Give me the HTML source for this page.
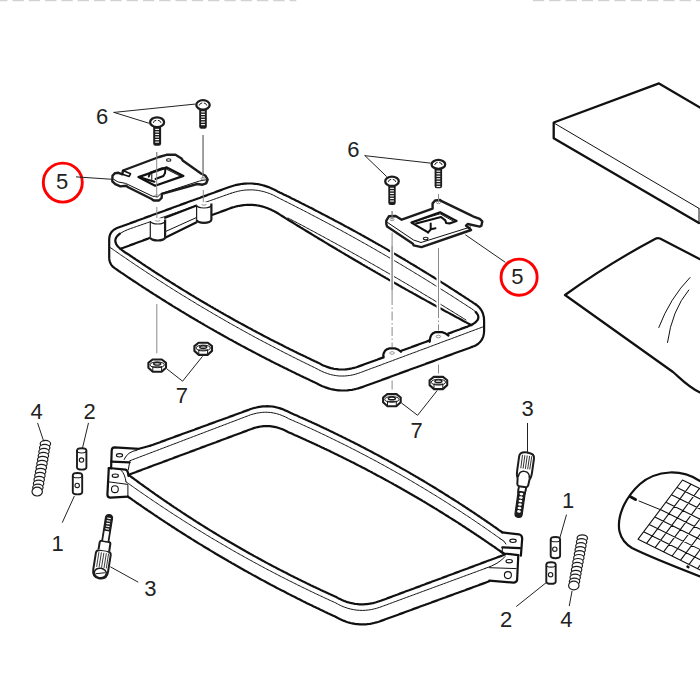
<!DOCTYPE html>
<html><head><meta charset="utf-8"><style>
html,body{margin:0;padding:0;background:#fff;width:700px;height:700px;overflow:hidden}
svg{display:block}
text{font-family:"Liberation Sans",sans-serif}
</style></head><body>
<svg width="700" height="700" viewBox="0 0 700 700">
<rect width="700" height="700" fill="#fff"/>
<path d="M228.6,187.3 230.2,186.7 231.8,186.2 233.4,185.7 235.0,185.3 236.5,184.9 238.1,184.6 239.6,184.3 241.2,184.0 242.8,183.8 244.3,183.7 245.9,183.6 247.4,183.5 248.9,183.5 250.5,183.5 252.0,183.5 253.5,183.7 255.0,183.8 256.6,184.0 258.1,184.2 259.6,184.5 261.1,184.8 262.6,185.2 264.1,185.6 265.6,186.1 267.1,186.6 268.6,187.1 270.1,187.7 271.6,188.4 273.0,189.1 274.5,189.8 276.0,190.5 277.5,191.4 278.8,192.0 280.2,192.7 281.5,193.3 282.9,194.0 284.2,194.7 285.6,195.3 287.0,196.0 288.3,196.6 289.7,197.3 291.0,198.0 292.4,198.7 293.7,199.3 295.1,200.0 296.4,200.7 297.8,201.3 299.1,202.0 300.5,202.7 301.8,203.4 303.1,204.0 304.5,204.7 305.8,205.4 307.2,206.1 308.5,206.8 309.9,207.5 311.2,208.1 312.6,208.8 313.9,209.5 315.2,210.2 316.6,210.9 317.9,211.6 319.2,212.3 320.6,213.0 321.9,213.7 323.3,214.4 324.6,215.1 325.9,215.8 327.3,216.5 328.6,217.2 329.9,217.9 331.3,218.6 332.6,219.3 333.9,220.0 335.2,220.7 336.6,221.4 337.9,222.1 339.2,222.8 340.6,223.5 341.9,224.2 343.2,224.9 344.5,225.7 345.9,226.4 347.2,227.1 348.5,227.8 349.8,228.5 351.2,229.2 352.5,230.0 353.8,230.7 355.1,231.4 356.4,232.1 357.8,232.9 359.1,233.6 360.4,234.3 361.7,235.1 363.0,235.8 364.3,236.5 365.6,237.3 367.0,238.0 368.3,238.7 369.6,239.5 370.9,240.2 372.2,240.9 373.5,241.7 374.8,242.4 376.1,243.2 377.4,243.9 378.8,244.7 380.1,245.4 381.4,246.1 382.7,246.9 384.0,247.6 385.3,248.4 386.6,249.1 387.9,249.9 389.2,250.7 390.5,251.4 391.8,252.2 393.1,252.9 394.4,253.7 395.7,254.4 397.0,255.2 398.3,256.0 399.6,256.7 400.9,257.5 402.2,258.3 403.5,259.0 404.8,259.8 406.1,260.6 407.4,261.3 408.6,262.1 409.9,262.9 411.2,263.7 412.5,264.4 413.8,265.2 415.1,266.0 416.4,266.8 417.7,267.6 419.0,268.3 420.2,269.1 421.5,269.9 422.8,270.7 424.1,271.5 425.4,272.3 426.7,273.1 428.0,273.8 429.2,274.6 430.5,275.4 431.8,276.2 433.1,277.0 434.4,277.8 435.6,278.6 436.9,279.4 438.2,280.2 439.5,281.0 440.7,281.8 442.0,282.6 443.3,283.4 444.6,284.2 445.8,285.0 447.1,285.8 448.4,286.6 449.7,287.5 450.9,288.3 452.2,289.1 453.5,289.9 454.7,290.7 456.0,291.5 457.3,292.3 458.5,293.2 459.8,294.0 461.1,294.8 462.3,295.6 463.6,296.4 464.8,297.3 466.1,298.1 467.4,298.9 468.6,299.7 469.9,300.6 471.2,301.4 472.4,302.2 473.7,303.1 475.2,304.0 476.6,305.0 477.9,306.1 479.1,307.3 480.2,308.5 481.1,309.8 481.9,311.2 482.6,312.7 483.1,314.2 483.5,315.8 483.9,317.5 484.0,319.2 484.1,321.0 484.1,322.6 484.1,324.2 484.1,325.8 484.1,327.3 484.1,328.9 484.1,330.5 484.0,332.3 483.8,334.0 483.5,335.6 483.0,337.1 482.4,338.6 481.7,339.9 480.8,341.1 479.8,342.3 478.7,343.3 477.4,344.3 476.0,345.2 474.5,345.9 472.8,346.6 471.4,347.1 470.0,347.7 468.6,348.2 467.2,348.7 465.8,349.2 464.4,349.7 463.0,350.2 461.6,350.8 460.1,351.3 458.7,351.8 457.3,352.3 455.9,352.8 454.5,353.3 453.1,353.8 451.7,354.4 450.3,354.9 448.9,355.4 447.5,355.9 446.1,356.4 444.6,356.9 443.2,357.5 441.8,358.0 440.4,358.5 439.0,359.0 437.6,359.5 436.2,360.0 434.8,360.6 433.4,361.1 432.0,361.6 430.6,362.1 429.1,362.6 427.7,363.1 426.3,363.6 424.9,364.2 423.5,364.7 422.1,365.2 420.7,365.7 419.3,366.2 417.9,366.7 416.5,367.3 415.1,367.8 413.6,368.3 412.2,368.8 410.8,369.3 409.4,369.8 408.0,370.4 406.6,370.9 405.2,371.4 403.8,371.9 402.4,372.4 401.0,372.9 399.6,373.4 398.1,374.0 396.7,374.5 395.3,375.0 393.9,375.5 392.5,376.0 391.1,376.5 389.7,377.1 388.3,377.6 386.9,378.1 385.5,378.6 384.1,379.1 382.6,379.6 381.2,380.2 379.8,380.7 378.4,381.2 377.0,381.7 375.6,382.2 374.2,382.7 372.8,383.3 371.4,383.8 370.0,384.3 368.6,384.8 367.1,385.3 365.7,385.8 364.3,386.3 362.9,386.9 361.3,387.4 359.8,387.9 358.2,388.4 356.6,388.8 355.1,389.2 353.5,389.5 352.0,389.8 350.4,390.0 348.9,390.2 347.4,390.4 345.8,390.5 344.3,390.5 342.8,390.5 341.2,390.5 339.7,390.4 338.2,390.3 336.7,390.1 335.2,389.9 333.7,389.6 332.2,389.3 330.7,389.0 329.2,388.6 327.7,388.1 326.2,387.6 324.7,387.1 323.2,386.5 321.8,385.9 320.3,385.2 318.8,384.5 317.4,383.7 315.9,382.9 314.5,382.3 313.2,381.7 311.8,381.0 310.4,380.4 309.1,379.7 307.7,379.1 306.4,378.5 305.0,377.8 303.6,377.2 302.3,376.5 300.9,375.9 299.6,375.2 298.2,374.6 296.8,373.9 295.5,373.3 294.1,372.6 292.8,371.9 291.4,371.3 290.1,370.6 288.7,370.0 287.4,369.3 286.0,368.6 284.7,368.0 283.3,367.3 282.0,366.6 280.6,366.0 279.3,365.3 277.9,364.6 276.6,363.9 275.2,363.3 273.9,362.6 272.6,361.9 271.2,361.2 269.9,360.5 268.5,359.8 267.2,359.2 265.9,358.5 264.5,357.8 263.2,357.1 261.8,356.4 260.5,355.7 259.2,355.0 257.8,354.3 256.5,353.6 255.2,352.9 253.9,352.2 252.5,351.5 251.2,350.8 249.9,350.1 248.5,349.4 247.2,348.7 245.9,348.0 244.6,347.3 243.2,346.6 241.9,345.9 240.6,345.2 239.3,344.4 237.9,343.7 236.6,343.0 235.3,342.3 234.0,341.6 232.7,340.8 231.4,340.1 230.0,339.4 228.7,338.7 227.4,337.9 226.1,337.2 224.8,336.5 223.5,335.8 222.2,335.0 220.8,334.3 219.5,333.5 218.2,332.8 216.9,332.1 215.6,331.3 214.3,330.6 213.0,329.8 211.7,329.1 210.4,328.4 209.1,327.6 207.8,326.9 206.5,326.1 205.2,325.4 203.9,324.6 202.6,323.8 201.3,323.1 200.0,322.3 198.7,321.6 197.4,320.8 196.1,320.0 194.8,319.3 193.5,318.5 192.2,317.8 190.9,317.0 189.6,316.2 188.3,315.4 187.1,314.7 185.8,313.9 184.5,313.1 183.2,312.3 181.9,311.6 180.6,310.8 179.3,310.0 178.1,309.2 176.8,308.4 175.5,307.7 174.2,306.9 172.9,306.1 171.7,305.3 170.4,304.5 169.1,303.7 167.8,302.9 166.5,302.1 165.3,301.3 164.0,300.5 162.7,299.7 161.4,298.9 160.2,298.1 158.9,297.3 157.6,296.5 156.4,295.7 155.1,294.9 153.8,294.1 152.6,293.3 151.3,292.5 150.0,291.7 148.8,290.8 147.5,290.0 146.2,289.2 145.0,288.4 143.7,287.6 142.4,286.8 141.2,285.9 139.9,285.1 138.7,284.3 137.4,283.4 136.2,282.6 134.9,281.8 133.6,281.0 132.4,280.1 131.1,279.3 129.9,278.5 128.6,277.6 127.4,276.8 126.1,275.9 124.9,275.1 123.6,274.2 122.4,273.4 121.1,272.6 119.9,271.7 118.6,270.9 117.4,270.0 116.2,269.2 114.7,268.2 113.4,267.2 112.3,266.1 111.3,264.8 110.6,263.5 110.0,262.1 109.5,260.6 109.3,258.9 109.2,257.2 109.2,255.6 109.2,254.1 109.2,252.5 109.2,250.9 109.2,249.3 109.2,247.8 109.2,246.2 109.2,244.6 109.2,243.0 109.2,241.5 109.2,239.9 109.3,238.0 109.6,236.2 110.1,234.6 110.9,233.1 111.8,231.7 113.0,230.5 114.3,229.5 115.9,228.6 117.7,227.8 119.1,227.3 120.5,226.8 121.9,226.3 123.3,225.7 124.8,225.2 126.2,224.7 127.6,224.2 129.0,223.7 130.5,223.1 131.9,222.6 133.3,222.1 134.7,221.6 136.2,221.1 137.6,220.5 139.0,220.0 140.4,219.5 141.8,219.0 143.3,218.5 144.7,217.9 146.1,217.4 147.5,216.9 149.0,216.4 150.4,215.9 151.8,215.3 153.2,214.8 154.6,214.3 156.1,213.8 157.5,213.3 158.9,212.7 160.3,212.2 161.8,211.7 163.2,211.2 164.6,210.7 166.0,210.1 167.5,209.6 168.9,209.1 170.3,208.6 171.7,208.1 173.1,207.5 174.6,207.0 176.0,206.5 177.4,206.0 178.8,205.5 180.3,204.9 181.7,204.4 183.1,203.9 184.5,203.4 186.0,202.9 187.4,202.3 188.8,201.8 190.2,201.3 191.6,200.8 193.1,200.3 194.5,199.7 195.9,199.2 197.3,198.7 198.8,198.2 200.2,197.7 201.6,197.1 203.0,196.6 204.5,196.1 205.9,195.6 207.3,195.1 208.7,194.5 210.1,194.0 211.6,193.5 213.0,193.0 214.4,192.5 215.8,191.9 217.3,191.4 218.7,190.9 220.1,190.4 221.5,189.9 222.9,189.3 224.4,188.8 225.8,188.3 227.2,187.8 228.6,187.3" fill="none" stroke="#111" stroke-width="2.2" stroke-linejoin="round" stroke-linecap="round" />
<path d="M230.9,193.3 232.5,192.8 234.0,192.3 235.6,191.9 237.2,191.5 238.7,191.1 240.3,190.8 241.8,190.5 243.4,190.3 244.9,190.1 246.5,190.0 248.0,189.9 249.6,189.9 251.1,189.9 252.6,189.9 254.1,190.0 255.7,190.2 257.2,190.3 258.7,190.6 260.2,190.8 261.7,191.2 263.2,191.5 264.7,191.9 266.2,192.4 267.7,192.9 269.2,193.4 270.6,194.0 272.1,194.6 273.6,195.3 275.0,196.0 276.5,196.8 278.0,197.6 279.3,198.3 280.7,199.0 282.0,199.6 283.4,200.3 284.7,201.0 286.0,201.7 287.4,202.3 288.7,203.0 290.1,203.7 291.4,204.4 292.8,205.0 294.1,205.7 295.4,206.4 296.8,207.1 298.1,207.8 299.5,208.5 300.8,209.1 302.1,209.8 303.5,210.5 304.8,211.2 306.2,211.9 307.5,212.6 308.8,213.3 310.2,214.0 311.5,214.7 312.8,215.4 314.2,216.1 315.5,216.8 316.8,217.5 318.2,218.2 319.5,218.9 320.8,219.6 322.1,220.3 323.5,221.0 324.8,221.7 326.1,222.4 327.5,223.1 328.8,223.8 330.1,224.5 331.4,225.2 332.8,225.9 334.1,226.6 335.4,227.4 336.7,228.1 338.0,228.8 339.4,229.5 340.7,230.2 342.0,230.9 343.3,231.7 344.6,232.4 346.0,233.1 347.3,233.8 348.6,234.6 349.9,235.3 351.2,236.0 352.5,236.7 353.9,237.5 355.2,238.2 356.5,238.9 357.8,239.7 359.1,240.4 360.4,241.1 361.7,241.9 363.0,242.6 364.4,243.3 365.7,244.1 367.0,244.8 368.3,245.6 369.6,246.3 370.9,247.0 372.2,247.8 373.5,248.5 374.8,249.3 376.1,250.0 377.4,250.8 378.7,251.5 380.0,252.3 381.3,253.0 382.6,253.8 383.9,254.5 385.2,255.3 386.5,256.0 387.8,256.8 389.1,257.6 390.4,258.3 391.7,259.1 393.0,259.8 394.3,260.6 395.6,261.4 396.9,262.1 398.2,262.9 399.5,263.7 400.8,264.4 402.1,265.2 403.4,266.0 404.6,266.7 405.9,267.5 407.2,268.3 408.5,269.1 409.8,269.8 411.1,270.6 412.4,271.4 413.7,272.2 414.9,273.0 416.2,273.7 417.5,274.5 418.8,275.3 420.1,276.1 421.4,276.9 422.6,277.7 423.9,278.4 425.2,279.2 426.5,280.0 427.8,280.8 429.0,281.6 430.3,282.4 431.6,283.2 432.9,284.0 434.1,284.8 435.4,285.6 436.7,286.4 438.0,287.2 439.2,288.0 440.5,288.8 441.8,289.6 443.1,290.4 444.3,291.2 445.6,292.0 446.9,292.8 448.1,293.6 449.4,294.4 450.7,295.2 452.0,296.0 453.2,296.8 454.5,297.7 455.8,298.5 457.0,299.3 458.3,300.1 459.5,300.9 460.8,301.7 462.1,302.6 463.3,303.4 464.6,304.2 465.9,305.0 467.1,305.8 468.4,306.7 471.3,308.5 473.8,310.3 475.7,312.0 477.1,313.7 478.0,315.3 478.4,316.9 478.2,318.5 477.6,320.0 476.4,321.4 474.8,322.9 472.6,324.2 469.9,325.6 466.7,326.9 465.2,327.4 463.8,327.9 462.4,328.4 461.0,328.9 459.6,329.5 458.1,330.0 456.7,330.5 455.3,331.0 453.9,331.5 452.5,332.1 451.0,332.6 449.6,333.1 448.2,333.6 446.8,334.1 445.3,334.7 443.9,335.2 442.5,335.7 441.1,336.2 439.7,336.8 438.2,337.3 436.8,337.8 435.4,338.3 434.0,338.8 432.6,339.4 431.1,339.9 429.7,340.4 428.3,340.9 426.9,341.4 425.5,342.0 424.0,342.5 422.6,343.0 421.2,343.5 419.8,344.0 418.3,344.6 416.9,345.1 415.5,345.6 414.1,346.1 412.7,346.6 411.2,347.2 409.8,347.7 408.4,348.2 407.0,348.7 405.6,349.2 404.1,349.8 402.7,350.3 401.3,350.8 399.9,351.3 398.4,351.9 397.0,352.4 395.6,352.9 394.2,353.4 392.8,353.9 391.3,354.5 389.9,355.0 388.5,355.5 387.1,356.0 385.7,356.5 384.2,357.1 382.8,357.6 381.4,358.1 380.0,358.6 378.6,359.1 377.1,359.7 375.7,360.2 374.3,360.7 372.9,361.2 371.4,361.7 370.0,362.3 368.6,362.8 367.2,363.3 365.8,363.8 364.3,364.3 362.9,364.9 361.5,365.4 360.1,365.9 358.7,366.4 357.1,367.0 355.5,367.5 353.9,367.9 352.3,368.3 350.8,368.7 349.2,368.9 347.6,369.2 346.1,369.3 344.5,369.5 343.0,369.5 341.5,369.5 339.9,369.5 338.4,369.4 336.9,369.2 335.3,369.0 333.8,368.8 332.3,368.4 330.8,368.1 329.3,367.6 327.8,367.1 326.3,366.6 324.8,366.0 323.3,365.4 321.8,364.7 320.4,363.9 318.9,363.1 317.5,362.5 316.2,361.8 314.8,361.2 313.4,360.5 312.1,359.9 310.7,359.2 309.3,358.6 308.0,357.9 306.6,357.3 305.3,356.6 303.9,356.0 302.5,355.3 301.2,354.7 299.8,354.0 298.5,353.4 297.1,352.7 295.8,352.0 294.4,351.4 293.1,350.7 291.7,350.0 290.4,349.4 289.0,348.7 287.7,348.0 286.3,347.4 285.0,346.7 283.6,346.0 282.3,345.3 280.9,344.6 279.6,344.0 278.3,343.3 276.9,342.6 275.6,341.9 274.2,341.2 272.9,340.5 271.6,339.9 270.2,339.2 268.9,338.5 267.5,337.8 266.2,337.1 264.9,336.4 263.5,335.7 262.2,335.0 260.9,334.3 259.6,333.6 258.2,332.9 256.9,332.2 255.6,331.5 254.2,330.8 252.9,330.1 251.6,329.3 250.3,328.6 248.9,327.9 247.6,327.2 246.3,326.5 245.0,325.8 243.6,325.0 242.3,324.3 241.0,323.6 239.7,322.9 238.4,322.2 237.1,321.4 235.7,320.7 234.4,320.0 233.1,319.2 231.8,318.5 230.5,317.8 229.2,317.0 227.9,316.3 226.6,315.6 225.2,314.8 223.9,314.1 222.6,313.3 221.3,312.6 220.0,311.8 218.7,311.1 217.4,310.3 216.1,309.6 214.8,308.8 213.5,308.1 212.2,307.3 210.9,306.6 209.6,305.8 208.3,305.1 207.0,304.3 205.7,303.5 204.4,302.8 203.1,302.0 201.8,301.2 200.5,300.5 199.2,299.7 198.0,298.9 196.7,298.2 195.4,297.4 194.1,296.6 192.8,295.8 191.5,295.1 190.2,294.3 188.9,293.5 187.7,292.7 186.4,291.9 185.1,291.1 183.8,290.4 182.5,289.6 181.2,288.8 180.0,288.0 178.7,287.2 177.4,286.4 176.1,285.6 174.9,284.8 173.6,284.0 172.3,283.2 171.0,282.4 169.8,281.6 168.5,280.8 167.2,280.0 165.9,279.2 164.7,278.4 163.4,277.6 162.1,276.7 160.9,275.9 159.6,275.1 158.3,274.3 157.1,273.5 155.8,272.7 154.5,271.8 153.3,271.0 152.0,270.2 150.8,269.4 149.5,268.5 148.2,267.7 147.0,266.9 145.7,266.1 144.5,265.2 143.2,264.4 142.0,263.6 140.7,262.7 139.5,261.9 138.2,261.0 137.0,260.2 135.7,259.4 134.5,258.5 133.2,257.7 132.0,256.8 130.7,256.0 129.5,255.1 128.2,254.3 125.2,252.5 122.7,250.7 120.5,249.0 118.7,247.3 117.2,245.7 116.2,244.1 115.6,242.5 115.3,240.9 115.5,239.4 116.0,237.9 116.9,236.5 118.2,235.1 119.9,233.7 122.0,232.4 124.4,231.1 127.3,229.8 130.5,228.6 132.0,228.1 133.4,227.6 134.8,227.1 136.3,226.6 137.7,226.1 139.1,225.6 140.6,225.1 142.0,224.6 143.4,224.1 144.9,223.6 146.3,223.1 147.7,222.6 149.2,222.1 150.6,221.6 152.0,221.1 153.5,220.5 154.9,220.0 156.3,219.5 157.8,219.0 159.2,218.5 160.6,218.0 162.1,217.5 163.5,217.0 164.9,216.5 166.4,216.0 167.8,215.5 169.2,215.0 170.7,214.5 172.1,214.0 173.5,213.5 175.0,213.0 176.4,212.5 177.8,212.0 179.3,211.5 180.7,211.0 182.1,210.5 183.6,210.0 185.0,209.5 186.4,209.0 187.9,208.4 189.3,207.9 190.7,207.4 192.2,206.9 193.6,206.4 195.0,205.9 196.5,205.4 197.9,204.9 199.3,204.4 200.8,203.9 202.2,203.4 203.6,202.9 205.1,202.4 206.5,201.9 207.9,201.4 209.4,200.9 210.8,200.4 212.2,199.9 213.7,199.4 215.1,198.9 216.5,198.4 218.0,197.9 219.4,197.4 220.8,196.9 222.3,196.4 223.7,195.8 225.1,195.3 226.6,194.8 228.0,194.3 229.4,193.8 230.9,193.3" fill="none" stroke="#111" stroke-width="1.0" stroke-linejoin="round" stroke-linecap="round" />
<path d="M475.7,312.0 477.1,313.7 478.0,315.3 478.4,316.9 478.2,318.5 477.6,320.0 476.4,321.4 474.8,322.9 472.6,324.2 469.9,325.6 466.7,326.9 465.2,327.4 463.8,327.9 462.4,328.4 461.0,328.9 459.6,329.5 458.1,330.0 456.7,330.5 455.3,331.0 453.9,331.5 452.5,332.1 451.0,332.6 449.6,333.1 448.2,333.6 446.8,334.1 445.3,334.7 443.9,335.2 442.5,335.7 441.1,336.2 439.7,336.8 438.2,337.3 436.8,337.8 435.4,338.3 434.0,338.8 432.6,339.4 431.1,339.9 429.7,340.4 428.3,340.9 426.9,341.4 425.5,342.0 424.0,342.5 422.6,343.0 421.2,343.5 419.8,344.0 418.3,344.6 416.9,345.1 415.5,345.6 414.1,346.1 412.7,346.6 411.2,347.2 409.8,347.7 408.4,348.2 407.0,348.7 405.6,349.2 404.1,349.8 402.7,350.3 401.3,350.8 399.9,351.3 398.4,351.9 397.0,352.4 395.6,352.9 394.2,353.4 392.8,353.9 391.3,354.5 389.9,355.0 388.5,355.5 387.1,356.0 385.7,356.5 384.2,357.1 382.8,357.6 381.4,358.1 380.0,358.6 378.6,359.1 377.1,359.7 375.7,360.2 374.3,360.7 372.9,361.2 371.4,361.7 370.0,362.3 368.6,362.8 367.2,363.3 365.8,363.8 364.3,364.3 362.9,364.9 361.5,365.4 360.1,365.9 358.7,366.4 357.1,367.0 355.5,367.5 353.9,367.9 352.3,368.3 350.8,368.7 349.2,368.9 347.6,369.2 346.1,369.3 344.5,369.5 343.0,369.5 341.5,369.5 339.9,369.5 338.4,369.4 336.9,369.2 335.3,369.0 333.8,368.8 332.3,368.4 330.8,368.1 329.3,367.6 327.8,367.1 326.3,366.6 324.8,366.0 323.3,365.4 321.8,364.7 320.4,363.9 318.9,363.1 317.5,362.5 316.2,361.8 314.8,361.2 313.4,360.5 312.1,359.9 310.7,359.2 309.3,358.6 308.0,357.9 306.6,357.3 305.3,356.6 303.9,356.0 302.5,355.3 301.2,354.7 299.8,354.0 298.5,353.4 297.1,352.7 295.8,352.0 294.4,351.4 293.1,350.7 291.7,350.0 290.4,349.4 289.0,348.7 287.7,348.0 286.3,347.4 285.0,346.7 283.6,346.0 282.3,345.3 280.9,344.6 279.6,344.0 278.3,343.3 276.9,342.6 275.6,341.9 274.2,341.2 272.9,340.5 271.6,339.9 270.2,339.2 268.9,338.5 267.5,337.8 266.2,337.1 264.9,336.4 263.5,335.7 262.2,335.0 260.9,334.3 259.6,333.6 258.2,332.9 256.9,332.2 255.6,331.5 254.2,330.8 252.9,330.1 251.6,329.3 250.3,328.6 248.9,327.9 247.6,327.2 246.3,326.5 245.0,325.8 243.6,325.0 242.3,324.3 241.0,323.6 239.7,322.9 238.4,322.2 237.1,321.4 235.7,320.7 234.4,320.0 233.1,319.2 231.8,318.5 230.5,317.8 229.2,317.0 227.9,316.3 226.6,315.6 225.2,314.8 223.9,314.1 222.6,313.3 221.3,312.6 220.0,311.8 218.7,311.1 217.4,310.3 216.1,309.6 214.8,308.8 213.5,308.1 212.2,307.3 210.9,306.6 209.6,305.8 208.3,305.1 207.0,304.3 205.7,303.5 204.4,302.8 203.1,302.0 201.8,301.2 200.5,300.5 199.2,299.7 198.0,298.9 196.7,298.2 195.4,297.4 194.1,296.6 192.8,295.8 191.5,295.1 190.2,294.3 188.9,293.5 187.7,292.7 186.4,291.9 185.1,291.1 183.8,290.4 182.5,289.6 181.2,288.8 180.0,288.0 178.7,287.2 177.4,286.4 176.1,285.6 174.9,284.8 173.6,284.0 172.3,283.2 171.0,282.4 169.8,281.6 168.5,280.8 167.2,280.0 165.9,279.2 164.7,278.4 163.4,277.6 162.1,276.7 160.9,275.9 159.6,275.1 158.3,274.3 157.1,273.5 155.8,272.7 154.5,271.8 153.3,271.0 152.0,270.2 150.8,269.4 149.5,268.5 148.2,267.7 147.0,266.9 145.7,266.1 144.5,265.2 143.2,264.4 142.0,263.6 140.7,262.7 139.5,261.9 138.2,261.0 137.0,260.2 135.7,259.4 134.5,258.5 133.2,257.7 132.0,256.8 130.7,256.0 129.5,255.1 128.2,254.3 125.2,252.5 122.7,250.7 120.5,249.0 118.7,247.3 117.2,245.7 116.2,244.1 115.6,242.5 115.3,240.9 115.5,239.4 116.0,237.9 116.9,236.5 118.2,235.1 119.9,233.7" fill="none" stroke="#111" stroke-width="2.2" stroke-linejoin="round" stroke-linecap="round" />
<path d="M109.5,247.0 110.7,247.9 112.0,248.7 113.2,249.6 114.4,250.5 115.7,251.3 116.9,252.2 118.2,253.1 119.4,253.9 120.6,254.8 121.9,255.6 123.1,256.5 124.4,257.3 125.6,258.2 126.9,259.0 128.1,259.9 129.3,260.7 130.6,261.6 131.8,262.4 133.1,263.3 134.3,264.1 135.6,265.0 136.8,265.8 138.1,266.6 139.3,267.5 140.6,268.3 141.9,269.1 143.1,270.0 144.4,270.8 145.6,271.6 146.9,272.5 148.1,273.3 149.4,274.1 150.7,275.0 151.9,275.8 153.2,276.6 154.4,277.4 155.7,278.2 157.0,279.1 158.2,279.9 159.5,280.7 160.8,281.5 162.0,282.3 163.3,283.1 164.6,283.9 165.8,284.8 167.1,285.6 168.4,286.4 169.7,287.2 170.9,288.0 172.2,288.8 173.5,289.6 174.7,290.4 176.0,291.2 177.3,292.0 178.6,292.8 179.9,293.6 181.1,294.4 182.4,295.2 183.7,295.9 185.0,296.7 186.3,297.5 187.5,298.3 188.8,299.1 190.1,299.9 191.4,300.7 192.7,301.4 194.0,302.2 195.3,303.0 196.5,303.8 197.8,304.6 199.1,305.3 200.4,306.1 201.7,306.9 203.0,307.6 204.3,308.4 205.6,309.2 206.9,309.9 208.2,310.7 209.5,311.5 210.8,312.2 212.1,313.0 213.4,313.8 214.7,314.5 216.0,315.3 217.3,316.0 218.6,316.8 219.9,317.5 221.2,318.3 222.5,319.0 223.8,319.8 225.1,320.5 226.4,321.3 227.7,322.0 229.0,322.8 230.3,323.5 231.6,324.3 232.9,325.0 234.3,325.7 235.6,326.5 236.9,327.2 238.2,327.9 239.5,328.7 240.8,329.4 242.1,330.1 243.5,330.9 244.8,331.6 246.1,332.3 247.4,333.0 248.7,333.8 250.1,334.5 251.4,335.2 252.7,335.9 254.0,336.6 255.3,337.4 256.7,338.1 258.0,338.8 259.3,339.5 260.6,340.2 262.0,340.9 263.3,341.6 264.6,342.3 266.0,343.0 267.3,343.7 268.6,344.4 270.0,345.1 271.3,345.8 272.6,346.5 274.0,347.2 275.3,347.9 276.6,348.6 278.0,349.3 279.3,350.0 280.6,350.7 282.0,351.4 283.3,352.1 284.7,352.8 286.0,353.5 287.4,354.1 288.7,354.8 290.0,355.5 291.4,356.2 292.7,356.9 294.1,357.5 295.4,358.2 296.8,358.9 298.1,359.6 299.5,360.2 300.8,360.9 302.2,361.6 303.5,362.2 304.9,362.9 306.2,363.6 307.6,364.2 309.0,364.9 310.3,365.6 311.7,366.2 313.0,366.9 314.4,367.5 315.7,368.2 317.1,368.9 318.6,369.7 320.1,370.5 321.6,371.2 323.1,371.9 324.6,372.5 326.1,373.1 327.6,373.6 329.1,374.1 330.6,374.5 332.1,374.9 333.6,375.2 335.2,375.5 336.7,375.7 338.2,375.9 339.8,376.0 341.3,376.0 342.9,376.0 344.5,376.0 346.0,375.9 347.6,375.7 349.2,375.5 350.7,375.3 352.3,375.0 353.9,374.6 355.5,374.2 357.1,373.7 358.7,373.2 360.3,372.6 361.7,372.1 363.1,371.6 364.5,371.0 365.9,370.5 367.3,370.0 368.7,369.5 370.1,368.9 371.5,368.4 372.9,367.9 374.3,367.4 375.8,366.9 377.2,366.3 378.6,365.8 380.0,365.3 381.4,364.8 382.8,364.2 384.2,363.7 385.6,363.2 387.0,362.7 388.4,362.1 389.8,361.6 391.2,361.1 392.6,360.6 394.0,360.0 395.4,359.5 396.8,359.0 398.2,358.5 399.7,357.9 401.1,357.4 402.5,356.9 403.9,356.4 405.3,355.8 406.7,355.3 408.1,354.8 409.5,354.3 410.9,353.8 412.3,353.2 413.7,352.7 415.1,352.2 416.5,351.7 417.9,351.1 419.3,350.6 420.7,350.1 422.1,349.6 423.5,349.0 425.0,348.5 426.4,348.0 427.8,347.5 429.2,346.9 430.6,346.4 432.0,345.9 433.4,345.4 434.8,344.8 436.2,344.3 437.6,343.8 439.0,343.3 440.4,342.7 441.8,342.2 443.2,341.7 444.6,341.2 446.0,340.6 447.4,340.1 448.9,339.6 450.3,339.1 451.7,338.6 453.1,338.0 454.5,337.5 455.9,337.0 457.3,336.5 458.7,335.9 460.1,335.4 461.5,334.9 462.9,334.4 464.3,333.8 465.7,333.3 467.1,332.8 468.5,332.3 469.9,331.7 471.3,331.2 472.8,330.7 474.2,330.2 475.6,329.6 477.0,329.1 478.4,328.6 479.8,328.1 481.2,327.5 482.6,327.0 484.0,326.5" fill="none" stroke="#111" stroke-width="1.0" stroke-linejoin="round" stroke-linecap="round" />
<path d="M120.5,248.8 121.9,248.3 123.3,247.8 124.8,247.2 126.2,246.7 127.6,246.2 129.0,245.7 130.4,245.1 131.8,244.6 133.3,244.1 134.7,243.6 136.1,243.0 137.5,242.5 138.9,242.0 140.3,241.5 141.8,241.0 143.2,240.4 144.6,239.9 146.0,239.4 147.4,238.9 148.8,238.3 150.3,237.8 151.7,237.3 153.1,236.8 154.5,236.2 155.9,235.7 157.3,235.2 158.8,234.7 160.2,234.1 161.6,233.6 163.0,233.1 164.4,232.6 165.8,232.1 167.3,231.5 168.7,231.0 170.1,230.5 171.5,230.0 172.9,229.4 174.3,228.9 175.8,228.4 177.2,227.9 178.6,227.3 180.0,226.8 181.4,226.3 182.8,225.8 184.3,225.3 185.7,224.7 187.1,224.2 188.5,223.7 189.9,223.2 191.4,222.6 192.8,222.1 194.2,221.6 195.6,221.1 197.0,220.5 198.4,220.0 199.9,219.5 201.3,219.0 202.7,218.4 204.1,217.9 205.5,217.4 206.9,216.9 208.4,216.4 209.8,215.8 211.2,215.3 212.6,214.8 214.0,214.3 215.4,213.7 216.9,213.2 218.3,212.7 219.7,212.2 221.1,211.6 222.5,211.1 223.9,210.6 225.4,210.1 226.8,209.6 228.2,209.0 229.6,208.5 231.2,207.9 232.7,207.4 234.3,207.0 235.9,206.5 237.4,206.2 239.0,205.8 240.5,205.6 242.1,205.3 243.6,205.1 245.2,205.0 246.7,204.9 248.2,204.8 249.7,204.8 251.3,204.9 252.8,204.9 254.3,205.1 255.8,205.2 257.3,205.5 258.8,205.7 260.3,206.0 261.8,206.4 263.3,206.8 264.8,207.3 266.2,207.8 267.7,208.3 269.2,208.9 270.7,209.5 272.1,210.2 273.6,210.9 275.1,211.7 276.5,212.5 277.8,213.3 279.1,214.1 280.3,214.9 281.6,215.7 282.9,216.5 284.2,217.3 285.4,218.1 286.7,218.9 288.0,219.7 289.3,220.5 290.5,221.2 291.8,222.0 293.1,222.8 294.4,223.6 295.6,224.4 296.9,225.2 298.2,226.0 299.5,226.8 300.8,227.6 302.0,228.3 303.3,229.1 304.6,229.9 305.9,230.7 307.2,231.5 308.5,232.3 309.7,233.0 311.0,233.8 312.3,234.6 313.6,235.4 314.9,236.2 316.2,236.9 317.4,237.7 318.7,238.5 320.0,239.3 321.3,240.0 322.6,240.8 323.9,241.6 325.2,242.4 326.4,243.1 327.7,243.9 329.0,244.7 330.3,245.5 331.6,246.2 332.9,247.0 334.2,247.8 335.5,248.5 336.7,249.3 338.0,250.1 339.3,250.8 340.6,251.6 341.9,252.4 343.2,253.1 344.5,253.9 345.8,254.7 347.1,255.4 348.4,256.2 349.7,257.0 351.0,257.7 352.3,258.5 353.5,259.2 354.8,260.0 356.1,260.8 357.4,261.5 358.7,262.3 360.0,263.0 361.3,263.8 362.6,264.6 363.9,265.3 365.2,266.1 366.5,266.8 367.8,267.6 369.1,268.3 370.4,269.1 371.7,269.8 373.0,270.6 374.3,271.3 375.6,272.1 376.9,272.8 378.2,273.6 379.5,274.3 380.8,275.1 382.1,275.8 383.4,276.6 384.7,277.3 386.0,278.1 387.3,278.8 388.6,279.6 389.9,280.3 391.2,281.0 392.5,281.8 393.8,282.5 395.2,283.3 396.5,284.0 397.8,284.7 399.1,285.5 400.4,286.2 401.7,287.0 403.0,287.7 404.3,288.4 405.6,289.2 406.9,289.9 408.2,290.6 409.5,291.4 410.9,292.1 412.2,292.8 413.5,293.6 414.8,294.3 416.1,295.0 417.4,295.8 418.7,296.5 420.0,297.2 421.3,298.0 422.7,298.7 424.0,299.4 425.3,300.1 426.6,300.9 427.9,301.6 429.2,302.3 430.5,303.0 431.9,303.8 433.2,304.5 434.5,305.2 435.8,305.9 437.1,306.7 438.4,307.4 439.8,308.1 441.1,308.8 442.4,309.5 443.7,310.3 445.0,311.0 446.4,311.7 447.7,312.4 449.0,313.1 450.3,313.8 451.6,314.6 453.0,315.3 454.3,316.0 455.6,316.7 456.9,317.4 458.3,318.1 459.6,318.8 460.9,319.5 462.2,320.2 463.5,321.0 464.9,321.7 466.2,322.4 467.5,323.1 468.8,323.8 470.2,324.5 471.5,325.2" fill="none" stroke="#111" stroke-width="2.2" stroke-linejoin="round" stroke-linecap="round" />
<path d="M288.0,218.0 289.3,218.7 290.7,219.4 292.0,220.1 293.3,220.8 294.7,221.5 296.0,222.2 297.4,222.9 298.7,223.6 300.0,224.3 301.4,225.0 302.7,225.7 304.0,226.4 305.4,227.1 306.7,227.9 308.0,228.6 309.4,229.3 310.7,230.0 312.0,230.7 313.3,231.4 314.7,232.1 316.0,232.8 317.3,233.6 318.7,234.3 320.0,235.0 321.3,235.7 322.6,236.4 324.0,237.1 325.3,237.9 326.6,238.6 327.9,239.3 329.3,240.0 330.6,240.8 331.9,241.5 333.2,242.2 334.6,242.9 335.9,243.6 337.2,244.4 338.5,245.1 339.9,245.8 341.2,246.6 342.5,247.3 343.8,248.0 345.1,248.7 346.5,249.5 347.8,250.2 349.1,250.9 350.4,251.7 351.7,252.4 353.0,253.2 354.4,253.9 355.7,254.6 357.0,255.4 358.3,256.1 359.6,256.8 360.9,257.6 362.3,258.3 363.6,259.1 364.9,259.8 366.2,260.5 367.5,261.3 368.8,262.0 370.1,262.8 371.4,263.5 372.8,264.3 374.1,265.0 375.4,265.8 376.7,266.5 378.0,267.3 379.3,268.0 380.6,268.8 381.9,269.5 383.2,270.3 384.5,271.0 385.8,271.8 387.1,272.5 388.5,273.3 389.8,274.0 391.1,274.8 392.4,275.6 393.7,276.3 395.0,277.1 396.3,277.8 397.6,278.6 398.9,279.4 400.2,280.1 401.5,280.9 402.8,281.7 404.1,282.4 405.4,283.2 406.7,283.9 408.0,284.7 409.3,285.5 410.6,286.2 411.9,287.0 413.2,287.8 414.5,288.6 415.8,289.3 417.1,290.1 418.4,290.9 419.7,291.6 421.0,292.4 422.2,293.2 423.5,294.0 424.8,294.8 426.1,295.5 427.4,296.3 428.7,297.1 430.0,297.9 431.3,298.6 432.6,299.4 433.9,300.2 435.2,301.0 436.5,301.8 437.7,302.6 439.0,303.3 440.3,304.1 441.6,304.9 442.9,305.7 444.2,306.5 445.5,307.3 446.8,308.1 448.0,308.9 449.3,309.6 450.6,310.4 451.9,311.2 453.2,312.0 454.5,312.8 455.7,313.6 457.0,314.4 458.3,315.2 459.6,316.0 460.9,316.8 462.2,317.6 463.4,318.4 464.7,319.2 466.0,320.0" fill="none" stroke="#111" stroke-width="1.0" stroke-linejoin="round" stroke-linecap="round" />
<path d="M150.1,445.8 151.5,445.3 153.0,444.8 154.4,444.2 155.8,443.7 157.2,443.2 158.7,442.7 160.1,442.2 161.5,441.6 162.9,441.1 164.4,440.6 165.8,440.1 167.2,439.5 168.7,439.0 170.1,438.5 171.5,438.0 172.9,437.5 174.4,436.9 175.8,436.4 177.2,435.9 178.7,435.4 180.1,434.9 181.5,434.3 182.9,433.8 184.4,433.3 185.8,432.8 187.2,432.3 188.6,431.7 190.1,431.2 191.5,430.7 192.9,430.2 194.4,429.7 195.8,429.1 197.2,428.6 198.6,428.1 200.1,427.6 201.5,427.0 202.9,426.5 204.3,426.0 205.8,425.5 207.2,425.0 208.6,424.4 210.1,423.9 211.5,423.4 212.9,422.9 214.3,422.4 215.8,421.8 217.2,421.3 218.6,420.8 220.1,420.3 221.5,419.8 222.9,419.2 224.3,418.7 225.8,418.2 227.2,417.7 228.6,417.2 230.0,416.6 231.5,416.1 232.9,415.6 234.3,415.1 235.8,414.5 237.2,414.0 238.6,413.5 240.0,413.0 241.5,412.5 242.9,411.9 244.3,411.4 245.7,410.9 247.2,410.4 248.6,409.9 250.0,409.3 251.6,408.8 253.2,408.3 254.8,407.8 256.4,407.5 257.9,407.1 259.5,406.8 261.1,406.6 262.6,406.4 264.2,406.3 265.7,406.3 267.3,406.2 268.8,406.3 270.3,406.4 271.9,406.5 273.4,406.7 274.9,407.0 276.4,407.3 277.9,407.7 279.4,408.1 280.9,408.6 282.4,409.1 283.9,409.7 285.4,410.4 286.9,411.1 288.4,411.8 289.9,412.6 291.3,413.2 292.6,413.8 294.0,414.4 295.4,415.0 296.8,415.6 298.2,416.2 299.6,416.9 300.9,417.5 302.3,418.1 303.7,418.7 305.1,419.3 306.5,420.0 307.8,420.6 309.2,421.2 310.6,421.8 312.0,422.5 313.3,423.1 314.7,423.7 316.1,424.3 317.5,425.0 318.8,425.6 320.2,426.3 321.6,426.9 322.9,427.5 324.3,428.2 325.7,428.8 327.0,429.5 328.4,430.1 329.7,430.8 331.1,431.4 332.5,432.1 333.8,432.7 335.2,433.4 336.5,434.1 337.9,434.7 339.2,435.4 340.6,436.0 342.0,436.7 343.3,437.4 344.7,438.0 346.0,438.7 347.4,439.4 348.7,440.1 350.0,440.7 351.4,441.4 352.7,442.1 354.1,442.8 355.4,443.5 356.8,444.1 358.1,444.8 359.5,445.5 360.8,446.2 362.1,446.9 363.5,447.6 364.8,448.3 366.1,449.0 367.5,449.7 368.8,450.4 370.1,451.1 371.5,451.8 372.8,452.5 374.1,453.2 375.5,453.9 376.8,454.6 378.1,455.3 379.4,456.0 380.8,456.7 382.1,457.5 383.4,458.2 384.7,458.9 386.1,459.6 387.4,460.3 388.7,461.1 390.0,461.8 391.3,462.5 392.7,463.3 394.0,464.0 395.3,464.7 396.6,465.5 397.9,466.2 399.2,466.9 400.5,467.7 401.8,468.4 403.2,469.2 404.5,469.9 405.8,470.6 407.1,471.4 408.4,472.1 409.7,472.9 411.0,473.7 412.3,474.4 413.6,475.2 414.9,475.9 416.2,476.7 417.5,477.4 418.8,478.2 420.1,479.0 421.4,479.7 422.7,480.5 424.0,481.3 425.3,482.1 426.6,482.8 427.8,483.6 429.1,484.4 430.4,485.2 431.7,485.9 433.0,486.7 434.3,487.5 435.6,488.3 436.9,489.1 438.1,489.9 439.4,490.7 440.7,491.5 442.0,492.3 443.3,493.1 444.5,493.9 445.8,494.7 447.1,495.5 448.4,496.3 449.6,497.1 450.9,497.9 452.2,498.7 453.5,499.5 454.7,500.3 456.0,501.1 457.3,501.9 458.5,502.7 459.8,503.6 461.1,504.4 462.3,505.2 463.6,506.0 464.9,506.9 466.1,507.7 467.4,508.5 468.6,509.3 469.9,510.2 471.2,511.0 472.4,511.8 473.7,512.7 474.9,513.5 476.2,514.4 477.4,515.2 478.7,516.0 479.9,516.9 481.2,517.7 482.4,518.6 483.7,519.4 484.9,520.3 486.2,521.1 487.4,522.0 488.7,522.9 489.9,523.7 491.2,524.6 492.4,525.4 493.6,526.3 494.9,527.2 496.1,528.0 497.4,528.9 498.6,529.8 499.8,530.6 501.1,531.5 502.3,532.4" fill="none" stroke="#111" stroke-width="2.2" stroke-linejoin="round" stroke-linecap="round" />
<path d="M127.9,496.6 129.1,497.5 130.4,498.3 131.6,499.2 132.8,500.1 134.1,500.9 135.3,501.8 136.5,502.7 137.8,503.5 139.0,504.4 140.3,505.2 141.5,506.1 142.7,506.9 144.0,507.8 145.2,508.7 146.5,509.5 147.7,510.4 149.0,511.2 150.2,512.0 151.5,512.9 152.7,513.7 154.0,514.6 155.2,515.4 156.5,516.2 157.7,517.1 159.0,517.9 160.2,518.8 161.5,519.6 162.7,520.4 164.0,521.2 165.2,522.1 166.5,522.9 167.7,523.7 169.0,524.5 170.3,525.4 171.5,526.2 172.8,527.0 174.1,527.8 175.3,528.6 176.6,529.5 177.8,530.3 179.1,531.1 180.4,531.9 181.7,532.7 182.9,533.5 184.2,534.3 185.5,535.1 186.7,535.9 188.0,536.7 189.3,537.5 190.6,538.3 191.8,539.1 193.1,539.9 194.4,540.7 195.7,541.5 196.9,542.3 198.2,543.1 199.5,543.9 200.8,544.6 202.1,545.4 203.3,546.2 204.6,547.0 205.9,547.8 207.2,548.5 208.5,549.3 209.8,550.1 211.1,550.9 212.3,551.6 213.6,552.4 214.9,553.2 216.2,554.0 217.5,554.7 218.8,555.5 220.1,556.2 221.4,557.0 222.7,557.8 224.0,558.5 225.3,559.3 226.6,560.0 227.9,560.8 229.2,561.6 230.5,562.3 231.8,563.1 233.1,563.8 234.4,564.5 235.7,565.3 237.0,566.0 238.3,566.8 239.6,567.5 240.9,568.3 242.2,569.0 243.5,569.7 244.8,570.5 246.2,571.2 247.5,571.9 248.8,572.7 250.1,573.4 251.4,574.1 252.7,574.9 254.0,575.6 255.4,576.3 256.7,577.0 258.0,577.7 259.3,578.5 260.6,579.2 262.0,579.9 263.3,580.6 264.6,581.3 265.9,582.0 267.2,582.7 268.6,583.5 269.9,584.2 271.2,584.9 272.6,585.6 273.9,586.3 275.2,587.0 276.5,587.7 277.9,588.4 279.2,589.1 280.5,589.8 281.9,590.5 283.2,591.1 284.6,591.8 285.9,592.5 287.2,593.2 288.6,593.9 289.9,594.6 291.2,595.3 292.6,596.0 293.9,596.6 295.3,597.3 296.6,598.0 298.0,598.7 299.3,599.3 300.7,600.0 302.0,600.7 303.3,601.4 304.7,602.0 306.0,602.7 307.4,603.4 308.7,604.0 310.1,604.7 311.5,605.3 312.8,606.0 314.2,606.7 315.5,607.3 316.9,608.0 318.2,608.6 319.6,609.3 321.0,609.9 322.3,610.6 323.7,611.2 325.0,611.9 326.4,612.5 327.8,613.2 329.1,613.8 330.5,614.4 331.9,615.1 333.2,615.7 334.6,616.3 336.0,617.0 337.4,617.8 338.9,618.6 340.3,619.3 341.8,619.9 343.2,620.6 344.7,621.1 346.2,621.7 347.6,622.2 349.1,622.6 350.6,623.0 352.1,623.3 353.6,623.6 355.1,623.9 356.6,624.1 358.1,624.2 359.6,624.3 361.1,624.4 362.6,624.4 364.1,624.4 365.6,624.3 367.2,624.2 368.7,624.0 370.2,623.8 371.8,623.5 373.3,623.2 374.8,622.8 376.4,622.4 378.0,622.0 379.5,621.5 381.1,620.9 382.5,620.4 383.9,619.9 385.3,619.3 386.8,618.8 388.2,618.3 389.6,617.8 391.0,617.3 392.5,616.7 393.9,616.2 395.3,615.7 396.7,615.2 398.2,614.7 399.6,614.1 401.0,613.6 402.4,613.1 403.9,612.6 405.3,612.0 406.7,611.5 408.1,611.0 409.6,610.5 411.0,610.0 412.4,609.4 413.8,608.9 415.3,608.4 416.7,607.9 418.1,607.4 419.5,606.8 420.9,606.3 422.4,605.8 423.8,605.3 425.2,604.8 426.6,604.2 428.1,603.7 429.5,603.2 430.9,602.7 432.3,602.1 433.8,601.6 435.2,601.1 436.6,600.6 438.0,600.1 439.5,599.5 440.9,599.0 442.3,598.5 443.7,598.0 445.2,597.5 446.6,596.9 448.0,596.4 449.4,595.9 450.9,595.4 452.3,594.9 453.7,594.3 455.1,593.8 456.5,593.3 458.0,592.8 459.4,592.2 460.8,591.7 462.2,591.2 463.7,590.7 465.1,590.2 466.5,589.6 467.9,589.1 469.4,588.6 470.8,588.1 472.2,587.6 473.6,587.0 475.1,586.5 476.5,586.0 477.9,585.5 479.3,584.9 480.8,584.4 482.2,583.9 483.6,583.4 485.0,582.9 486.5,582.3 487.9,581.8 489.3,581.3" fill="none" stroke="#111" stroke-width="2.2" stroke-linejoin="round" stroke-linecap="round" />
<path d="M129.7,460.8 131.1,460.3 132.5,459.7 134.0,459.2 135.4,458.6 136.8,458.1 138.2,457.6 139.6,457.0 141.0,456.5 142.5,455.9 143.9,455.4 145.3,454.9 146.7,454.3 148.1,453.8 149.5,453.3 151.0,452.7 152.4,452.2 153.8,451.6 155.2,451.1 156.6,450.6 158.0,450.0 159.5,449.5 160.9,448.9 162.3,448.4 163.7,447.9 165.1,447.3 166.5,446.8 168.0,446.2 169.4,445.7 170.8,445.2 172.2,444.6 173.6,444.1 175.0,443.6 176.5,443.0 177.9,442.5 179.3,441.9 180.7,441.4 182.1,440.9 183.6,440.3 185.0,439.8 186.4,439.2 187.8,438.7 189.2,438.2 190.6,437.6 192.1,437.1 193.5,436.5 194.9,436.0 196.3,435.5 197.7,434.9 199.1,434.4 200.6,433.8 202.0,433.3 203.4,432.8 204.8,432.2 206.2,431.7 207.6,431.2 209.1,430.6 210.5,430.1 211.9,429.5 213.3,429.0 214.7,428.5 216.1,427.9 217.6,427.4 219.0,426.8 220.4,426.3 221.8,425.8 223.2,425.2 224.6,424.7 226.1,424.1 227.5,423.6 228.9,423.1 230.3,422.5 231.7,422.0 233.1,421.5 234.6,420.9 236.0,420.4 237.4,419.8 238.8,419.3 240.2,418.8 241.7,418.2 243.1,417.7 244.5,417.1 245.9,416.6 247.3,416.1 248.7,415.5 250.3,414.9 251.9,414.4 253.5,414.0 255.0,413.6 256.6,413.2 258.2,412.9 259.7,412.7 261.3,412.5 262.8,412.3 264.3,412.3 265.9,412.2 267.4,412.3 268.9,412.4 270.5,412.5 272.0,412.7 273.5,413.0 275.0,413.3 276.5,413.6 278.0,414.1 279.5,414.5 281.0,415.1 282.5,415.7 284.0,416.3 285.5,417.0 287.0,417.7 288.4,418.6 289.8,419.2 291.2,419.8 292.6,420.4 294.0,421.0 295.3,421.6 296.7,422.2 298.1,422.8 299.5,423.4 300.9,424.0 302.2,424.7 303.6,425.3 305.0,425.9 306.3,426.5 307.7,427.2 309.1,427.8 310.5,428.4 311.8,429.0 313.2,429.7 314.6,430.3 315.9,430.9 317.3,431.6 318.7,432.2 320.0,432.9 321.4,433.5 322.7,434.2 324.1,434.8 325.5,435.4 326.8,436.1 328.2,436.8 329.5,437.4 330.9,438.1 332.2,438.7 333.6,439.4 334.9,440.0 336.3,440.7 337.6,441.4 339.0,442.0 340.3,442.7 341.7,443.4 343.0,444.0 344.4,444.7 345.7,445.4 347.1,446.0 348.4,446.7 349.7,447.4 351.1,448.1 352.4,448.8 353.8,449.4 355.1,450.1 356.4,450.8 357.8,451.5 359.1,452.2 360.4,452.9 361.8,453.6 363.1,454.3 364.4,455.0 365.8,455.7 367.1,456.4 368.4,457.1 369.7,457.8 371.1,458.5 372.4,459.2 373.7,459.9 375.0,460.6 376.4,461.3 377.7,462.0 379.0,462.8 380.3,463.5 381.6,464.2 383.0,464.9 384.3,465.6 385.6,466.4 386.9,467.1 388.2,467.8 389.5,468.5 390.8,469.3 392.1,470.0 393.5,470.7 394.8,471.5 396.1,472.2 397.4,473.0 398.7,473.7 400.0,474.4 401.3,475.2 402.6,475.9 403.9,476.7 405.2,477.4 406.5,478.2 407.8,478.9 409.1,479.7 410.4,480.4 411.7,481.2 413.0,482.0 414.3,482.7 415.6,483.5 416.9,484.3 418.1,485.0 419.4,485.8 420.7,486.6 422.0,487.3 423.3,488.1 424.6,488.9 425.9,489.7 427.2,490.4 428.4,491.2 429.7,492.0 431.0,492.8 432.3,493.6 433.6,494.4 434.8,495.1 436.1,495.9 437.4,496.7 438.7,497.5 439.9,498.3 441.2,499.1 442.5,499.9 443.8,500.7 445.0,501.5 446.3,502.3 447.6,503.1 448.8,503.9 450.1,504.7 451.4,505.6 452.6,506.4 453.9,507.2 455.2,508.0 456.4,508.8 457.7,509.6 459.0,510.5 460.2,511.3 461.5,512.1 462.7,512.9 464.0,513.8 465.2,514.6 466.5,515.4 467.7,516.2 469.0,517.1 470.3,517.9 471.5,518.8 472.8,519.6 474.0,520.4 475.2,521.3 476.5,522.1 477.7,523.0 479.0,523.8 480.2,524.7 481.5,525.5 482.7,526.4 484.0,527.2 485.2,528.1 486.4,528.9 487.7,529.8 488.9,530.7 490.1,531.5 491.4,532.4 492.6,533.3 493.8,534.1 495.1,535.0 496.3,535.9 497.5,536.7 498.8,537.6 500.0,538.5" fill="none" stroke="#111" stroke-width="1.0" stroke-linejoin="round" stroke-linecap="round" />
<path d="M500,538.5 Q505,541 506,544" fill="none" stroke="#111" stroke-width="1.0" stroke-linejoin="round" stroke-linecap="round" />
<path d="M126.0,481.8 127.2,482.7 128.5,483.6 129.7,484.4 130.9,485.3 132.2,486.2 133.4,487.1 134.6,487.9 135.9,488.8 137.1,489.7 138.3,490.5 139.6,491.4 140.8,492.3 142.1,493.1 143.3,494.0 144.5,494.8 145.8,495.7 147.0,496.6 148.3,497.4 149.5,498.3 150.8,499.1 152.0,500.0 153.3,500.8 154.5,501.7 155.8,502.5 157.0,503.3 158.3,504.2 159.5,505.0 160.8,505.9 162.0,506.7 163.3,507.5 164.5,508.4 165.8,509.2 167.1,510.0 168.3,510.9 169.6,511.7 170.8,512.5 172.1,513.3 173.4,514.2 174.6,515.0 175.9,515.8 177.2,516.6 178.4,517.4 179.7,518.2 181.0,519.0 182.2,519.9 183.5,520.7 184.8,521.5 186.1,522.3 187.3,523.1 188.6,523.9 189.9,524.7 191.2,525.5 192.4,526.3 193.7,527.1 195.0,527.9 196.3,528.7 197.6,529.5 198.8,530.3 200.1,531.0 201.4,531.8 202.7,532.6 204.0,533.4 205.3,534.2 206.5,535.0 207.8,535.7 209.1,536.5 210.4,537.3 211.7,538.1 213.0,538.8 214.3,539.6 215.6,540.4 216.9,541.1 218.2,541.9 219.5,542.7 220.8,543.4 222.1,544.2 223.4,544.9 224.7,545.7 226.0,546.5 227.3,547.2 228.6,548.0 229.9,548.7 231.2,549.5 232.5,550.2 233.8,551.0 235.1,551.7 236.4,552.5 237.7,553.2 239.0,553.9 240.3,554.7 241.7,555.4 243.0,556.1 244.3,556.9 245.6,557.6 246.9,558.3 248.2,559.1 249.6,559.8 250.9,560.5 252.2,561.2 253.5,562.0 254.8,562.7 256.2,563.4 257.5,564.1 258.8,564.8 260.1,565.6 261.5,566.3 262.8,567.0 264.1,567.7 265.4,568.4 266.8,569.1 268.1,569.8 269.4,570.5 270.8,571.2 272.1,571.9 273.4,572.6 274.8,573.3 276.1,574.0 277.5,574.7 278.8,575.4 280.1,576.1 281.5,576.8 282.8,577.5 284.2,578.1 285.5,578.8 286.8,579.5 288.2,580.2 289.5,580.9 290.9,581.5 292.2,582.2 293.6,582.9 294.9,583.6 296.3,584.2 297.6,584.9 299.0,585.6 300.3,586.2 301.7,586.9 303.0,587.6 304.4,588.2 305.8,588.9 307.1,589.5 308.5,590.2 309.8,590.9 311.2,591.5 312.6,592.2 313.9,592.8 315.3,593.5 316.7,594.1 318.0,594.8 319.4,595.4 320.7,596.0 322.1,596.7 323.5,597.3 324.9,598.0 326.2,598.6 327.6,599.2 329.0,599.9 330.3,600.5 331.7,601.1 333.1,601.7 334.5,602.4 335.9,603.0 337.3,603.8 338.7,604.6 340.2,605.3 341.7,606.0 343.1,606.6 344.6,607.2 346.1,607.7 347.5,608.2 349.0,608.6 350.5,609.0 352.0,609.3 353.5,609.6 355.0,609.9 356.5,610.1 358.0,610.2 359.5,610.3 361.0,610.4 362.5,610.4 364.0,610.4 365.5,610.3 367.0,610.1 368.6,610.0 370.1,609.7 371.6,609.5 373.2,609.1 374.7,608.8 376.3,608.4 377.8,607.9 379.4,607.4 381.0,606.9 382.4,606.3 383.8,605.8 385.2,605.3 386.7,604.8 388.1,604.2 389.5,603.7 390.9,603.2 392.4,602.7 393.8,602.1 395.2,601.6 396.6,601.1 398.1,600.5 399.5,600.0 400.9,599.5 402.3,599.0 403.8,598.4 405.2,597.9 406.6,597.4 408.0,596.9 409.5,596.3 410.9,595.8 412.3,595.3 413.7,594.8 415.2,594.2 416.6,593.7 418.0,593.2 419.4,592.7 420.9,592.1 422.3,591.6 423.7,591.1 425.1,590.6 426.6,590.0 428.0,589.5 429.4,589.0 430.8,588.5 432.3,587.9 433.7,587.4 435.1,586.9 436.5,586.4 438.0,585.8 439.4,585.3 440.8,584.8 442.2,584.3 443.7,583.7 445.1,583.2 446.5,582.7 447.9,582.2 449.4,581.6 450.8,581.1 452.2,580.6 453.6,580.1 455.1,579.5 456.5,579.0 457.9,578.5 459.3,578.0 460.8,577.4 462.2,576.9 463.6,576.4 465.0,575.9 466.5,575.3 467.9,574.8 469.3,574.3 470.7,573.8 472.2,573.2 473.6,572.7 475.0,572.2 476.4,571.7 477.9,571.1 479.3,570.6 480.7,570.1 482.1,569.6 483.6,569.0 485.0,568.5" fill="none" stroke="#111" stroke-width="1.0" stroke-linejoin="round" stroke-linecap="round" />
<path d="M121.4,470.6 Q125,474 126,481.8" fill="none" stroke="#111" stroke-width="1.0" stroke-linejoin="round" stroke-linecap="round" />
<path d="M485,568.5 Q499,564 505,556.6" fill="none" stroke="#111" stroke-width="1.0" stroke-linejoin="round" stroke-linecap="round" />
<path d="M128.5,474.8 129.9,474.3 131.3,473.7 132.7,473.2 134.1,472.7 135.6,472.2 137.0,471.6 138.4,471.1 139.8,470.6 141.2,470.1 142.6,469.5 144.0,469.0 145.4,468.5 146.9,468.0 148.3,467.4 149.7,466.9 151.1,466.4 152.5,465.8 153.9,465.3 155.3,464.8 156.7,464.3 158.2,463.7 159.6,463.2 161.0,462.7 162.4,462.2 163.8,461.6 165.2,461.1 166.6,460.6 168.0,460.1 169.5,459.5 170.9,459.0 172.3,458.5 173.7,457.9 175.1,457.4 176.5,456.9 177.9,456.4 179.3,455.8 180.8,455.3 182.2,454.8 183.6,454.3 185.0,453.7 186.4,453.2 187.8,452.7 189.2,452.2 190.6,451.6 192.0,451.1 193.5,450.6 194.9,450.1 196.3,449.5 197.7,449.0 199.1,448.5 200.5,447.9 201.9,447.4 203.3,446.9 204.8,446.4 206.2,445.8 207.6,445.3 209.0,444.8 210.4,444.3 211.8,443.7 213.2,443.2 214.6,442.7 216.1,442.2 217.5,441.6 218.9,441.1 220.3,440.6 221.7,440.0 223.1,439.5 224.5,439.0 225.9,438.5 227.4,437.9 228.8,437.4 230.2,436.9 231.6,436.4 233.0,435.8 234.4,435.3 235.8,434.8 237.2,434.3 238.7,433.7 240.1,433.2 241.5,432.7 242.9,432.1 244.3,431.6 245.7,431.1 247.1,430.6 248.5,430.0 249.9,429.5 251.4,429.0 252.9,428.4 254.5,427.9 256.0,427.5 257.6,427.1 259.1,426.8 260.6,426.5 262.2,426.3 263.7,426.2 265.2,426.1 266.7,426.1 268.3,426.1 269.8,426.2 271.3,426.4 272.8,426.6 274.3,426.8 275.8,427.1 277.2,427.5 278.7,428.0 280.2,428.5 281.7,429.0 283.1,429.6 284.6,430.3 286.1,431.0 287.5,431.8 288.9,432.4 290.3,433.0 291.7,433.6 293.1,434.2 294.4,434.9 295.8,435.5 297.2,436.1 298.6,436.7 300.0,437.3 301.3,437.9 302.7,438.6 304.1,439.2 305.5,439.8 306.8,440.4 308.2,441.0 309.6,441.7 311.0,442.3 312.3,442.9 313.7,443.6 315.1,444.2 316.4,444.8 317.8,445.5 319.2,446.1 320.5,446.8 321.9,447.4 323.3,448.0 324.6,448.7 326.0,449.3 327.4,450.0 328.7,450.6 330.1,451.3 331.4,452.0 332.8,452.6 334.1,453.3 335.5,453.9 336.9,454.6 338.2,455.2 339.6,455.9 340.9,456.6 342.3,457.2 343.6,457.9 345.0,458.6 346.3,459.3 347.7,459.9 349.0,460.6 350.3,461.3 351.7,462.0 353.0,462.6 354.4,463.3 355.7,464.0 357.1,464.7 358.4,465.4 359.7,466.1 361.1,466.8 362.4,467.5 363.7,468.1 365.1,468.8 366.4,469.5 367.7,470.2 369.1,470.9 370.4,471.6 371.7,472.3 373.1,473.1 374.4,473.8 375.7,474.5 377.0,475.2 378.4,475.9 379.7,476.6 381.0,477.3 382.3,478.0 383.7,478.8 385.0,479.5 386.3,480.2 387.6,480.9 388.9,481.6 390.3,482.4 391.6,483.1 392.9,483.8 394.2,484.6 395.5,485.3 396.8,486.0 398.1,486.8 399.5,487.5 400.8,488.2 402.1,489.0 403.4,489.7 404.7,490.5 406.0,491.2 407.3,492.0 408.6,492.7 409.9,493.5 411.2,494.2 412.5,495.0 413.8,495.7 415.1,496.5 416.4,497.2 417.7,498.0 419.0,498.8 420.3,499.5 421.6,500.3 422.9,501.1 424.2,501.8 425.5,502.6 426.8,503.4 428.1,504.2 429.3,504.9 430.6,505.7 431.9,506.5 433.2,507.3 434.5,508.1 435.8,508.8 437.1,509.6 438.3,510.4 439.6,511.2 440.9,512.0 442.2,512.8 443.5,513.6 444.7,514.4 446.0,515.2 447.3,516.0 448.6,516.8 449.8,517.6 451.1,518.4 452.4,519.2 453.7,520.0 454.9,520.8 456.2,521.6 457.5,522.4 458.7,523.2 460.0,524.0 461.3,524.9 462.5,525.7 463.8,526.5 465.1,527.3 466.3,528.2 467.6,529.0 468.8,529.8 470.1,530.6 471.4,531.5 472.6,532.3 473.9,533.1 475.1,534.0 476.4,534.8 477.6,535.6 478.9,536.5 480.2,537.3 481.4,538.2 482.7,539.0 483.9,539.9 485.2,540.7 486.4,541.6 487.6,542.4 488.9,543.3 490.1,544.1 491.4,545.0 492.6,545.8 493.9,546.7 495.1,547.5 496.3,548.4 497.6,549.3 498.8,550.1 500.1,551.0 501.3,551.9 502.5,552.8 503.8,553.6 505.0,554.5 503.6,555.0 502.2,555.6 500.8,556.1 499.4,556.6 497.9,557.1 496.5,557.7 495.1,558.2 493.7,558.7 492.3,559.2 490.9,559.8 489.5,560.3 488.1,560.8 486.6,561.3 485.2,561.9 483.8,562.4 482.4,562.9 481.0,563.4 479.6,564.0 478.2,564.5 476.8,565.0 475.3,565.5 473.9,566.1 472.5,566.6 471.1,567.1 469.7,567.6 468.3,568.2 466.9,568.7 465.5,569.2 464.0,569.7 462.6,570.3 461.2,570.8 459.8,571.3 458.4,571.9 457.0,572.4 455.6,572.9 454.2,573.4 452.7,574.0 451.3,574.5 449.9,575.0 448.5,575.5 447.1,576.1 445.7,576.6 444.3,577.1 442.9,577.6 441.5,578.2 440.0,578.7 438.6,579.2 437.2,579.7 435.8,580.3 434.4,580.8 433.0,581.3 431.6,581.8 430.2,582.4 428.7,582.9 427.3,583.4 425.9,583.9 424.5,584.5 423.1,585.0 421.7,585.5 420.3,586.1 418.9,586.6 417.4,587.1 416.0,587.6 414.6,588.2 413.2,588.7 411.8,589.2 410.4,589.7 409.0,590.3 407.6,590.8 406.1,591.3 404.7,591.8 403.3,592.4 401.9,592.9 400.5,593.4 399.1,593.9 397.7,594.5 396.3,595.0 394.9,595.5 393.4,596.0 392.0,596.6 390.6,597.1 389.2,597.6 387.8,598.1 386.4,598.7 385.0,599.2 383.6,599.7 382.1,600.2 380.7,600.8 379.2,601.3 377.6,601.8 376.1,602.3 374.5,602.7 373.0,603.1 371.4,603.4 369.9,603.7 368.4,603.9 366.8,604.1 365.3,604.2 363.8,604.3 362.3,604.3 360.8,604.3 359.3,604.3 357.8,604.1 356.3,604.0 354.8,603.8 353.3,603.5 351.8,603.2 350.3,602.9 348.9,602.5 347.4,602.1 345.9,601.6 344.4,601.0 343.0,600.4 341.5,599.8 340.1,599.1 338.6,598.4 337.2,597.6 335.8,596.8 334.4,596.2 333.0,595.6 331.6,594.9 330.2,594.3 328.9,593.7 327.5,593.1 326.1,592.4 324.8,591.8 323.4,591.2 322.0,590.5 320.6,589.9 319.3,589.2 317.9,588.6 316.6,588.0 315.2,587.3 313.8,586.7 312.5,586.0 311.1,585.4 309.7,584.7 308.4,584.1 307.0,583.4 305.7,582.7 304.3,582.1 303.0,581.4 301.6,580.8 300.3,580.1 298.9,579.4 297.6,578.7 296.2,578.1 294.9,577.4 293.5,576.7 292.2,576.1 290.8,575.4 289.5,574.7 288.1,574.0 286.8,573.3 285.4,572.6 284.1,572.0 282.8,571.3 281.4,570.6 280.1,569.9 278.8,569.2 277.4,568.5 276.1,567.8 274.8,567.1 273.4,566.4 272.1,565.7 270.8,565.0 269.4,564.3 268.1,563.6 266.8,562.9 265.5,562.2 264.1,561.4 262.8,560.7 261.5,560.0 260.2,559.3 258.8,558.6 257.5,557.8 256.2,557.1 254.9,556.4 253.6,555.7 252.3,554.9 251.0,554.2 249.6,553.5 248.3,552.7 247.0,552.0 245.7,551.3 244.4,550.5 243.1,549.8 241.8,549.0 240.5,548.3 239.2,547.5 237.9,546.8 236.6,546.0 235.3,545.3 234.0,544.5 232.7,543.8 231.4,543.0 230.1,542.3 228.8,541.5 227.5,540.7 226.2,540.0 224.9,539.2 223.6,538.4 222.3,537.7 221.0,536.9 219.7,536.1 218.5,535.3 217.2,534.6 215.9,533.8 214.6,533.0 213.3,532.2 212.0,531.4 210.7,530.6 209.5,529.9 208.2,529.1 206.9,528.3 205.6,527.5 204.4,526.7 203.1,525.9 201.8,525.1 200.5,524.3 199.3,523.5 198.0,522.7 196.7,521.9 195.5,521.1 194.2,520.3 192.9,519.4 191.7,518.6 190.4,517.8 189.1,517.0 187.9,516.2 186.6,515.4 185.3,514.5 184.1,513.7 182.8,512.9 181.6,512.1 180.3,511.2 179.1,510.4 177.8,509.6 176.5,508.7 175.3,507.9 174.0,507.1 172.8,506.2 171.5,505.4 170.3,504.5 169.1,503.7 167.8,502.8 166.6,502.0 165.3,501.1 164.1,500.3 162.8,499.4 161.6,498.6 160.4,497.7 159.1,496.9 157.9,496.0 156.6,495.1 155.4,494.3 154.2,493.4 152.9,492.5 151.7,491.7 150.5,490.8 149.2,489.9 148.0,489.0 146.8,488.2 145.6,487.3 144.3,486.4 143.1,485.5 141.9,484.6 140.7,483.8 139.4,482.9 138.2,482.0 137.0,481.1 135.8,480.2 134.6,479.3 133.4,478.4 132.1,477.5 130.9,476.6 129.7,475.7 128.5,474.8" fill="none" stroke="#111" stroke-width="2.2" stroke-linejoin="round" stroke-linecap="round" />
<path d="M150.1,445.8 L139,448.8 L114.5,447.4 Q111.9,447.5 111.7,450.5 L111.1,468.5" fill="none" stroke="#111" stroke-width="2.2" stroke-linejoin="round" stroke-linecap="round" />
<path d="M111.1,461.6 L129.7,462.3" fill="none" stroke="#111" stroke-width="2.2" stroke-linejoin="round" stroke-linecap="round" />
<path d="M129.7,462.3 L128.2,470" fill="none" stroke="#111" stroke-width="1.0" stroke-linejoin="round" stroke-linecap="round" />
<path d="M108.8,468 L125.5,469.6 Q127.8,470.5 128.3,474 L128.5,476" fill="none" stroke="#111" stroke-width="2.2" stroke-linejoin="round" stroke-linecap="round" />
<path d="M108.8,468 L107.4,494.6 Q107.5,497.6 110.4,497.6 L127.9,496.6" fill="none" stroke="#111" stroke-width="2.2" stroke-linejoin="round" stroke-linecap="round" />
<path d="M108.3,481.8 L127.9,484.4 L127.9,496.6" fill="none" stroke="#111" stroke-width="1.0" stroke-linejoin="round" stroke-linecap="round" />
<path d="M124.1,459.5 Q127.5,451.5 137.1,450.2" fill="none" stroke="#111" stroke-width="1.0" stroke-linejoin="round" stroke-linecap="round" />
<ellipse cx="119.5" cy="455.3" rx="3.1" ry="1.7" fill="none" stroke="#111" stroke-width="1.1"/>
<ellipse cx="115.3" cy="475.7" rx="3.1" ry="1.7" fill="none" stroke="#111" stroke-width="1.1"/>
<circle cx="114.9" cy="489.2" r="3.4" fill="none" stroke="#111" stroke-width="1.1"/>
<path d="M502.3,532.4 L519,534.3 Q522,535 522.2,538.5 L520.9,555.6" fill="none" stroke="#111" stroke-width="2.2" stroke-linejoin="round" stroke-linecap="round" />
<path d="M502.3,547.3 L519.9,548.2" fill="none" stroke="#111" stroke-width="2.2" stroke-linejoin="round" stroke-linecap="round" />
<path d="M500.6,551.4 L504,553.5 L518.3,555.2" fill="none" stroke="#111" stroke-width="2.2" stroke-linejoin="round" stroke-linecap="round" />
<path d="M518.3,555.2 L517.1,580 Q516.5,582.6 513.5,582.6 L489.3,580.7" fill="none" stroke="#111" stroke-width="2.2" stroke-linejoin="round" stroke-linecap="round" />
<path d="M489.3,567.7 L516.2,568.6" fill="none" stroke="#111" stroke-width="1.0" stroke-linejoin="round" stroke-linecap="round" />
<path d="M502.3,547.3 L502.3,552" fill="none" stroke="#111" stroke-width="1.0" stroke-linejoin="round" stroke-linecap="round" />
<ellipse cx="513" cy="540.8" rx="3.2" ry="1.7" fill="none" stroke="#111" stroke-width="1.1"/>
<ellipse cx="509.2" cy="561.2" rx="3.2" ry="1.7" fill="none" stroke="#111" stroke-width="1.1"/>
<circle cx="507.9" cy="575.1" r="3.5" fill="none" stroke="#111" stroke-width="1.1"/>
<rect x="153.2" y="123.8" width="7.9" height="21.9" rx="2.2" fill="#1c1c1c"/>
<rect x="155.2" y="128.80" width="3.8" height="1.15" fill="#fff"/>
<rect x="155.2" y="131.35" width="3.8" height="1.15" fill="#fff"/>
<rect x="155.2" y="133.90" width="3.8" height="1.15" fill="#fff"/>
<rect x="155.2" y="136.45" width="3.8" height="1.15" fill="#fff"/>
<rect x="155.2" y="139.00" width="3.8" height="1.15" fill="#fff"/>
<rect x="155.2" y="141.55" width="3.8" height="1.15" fill="#fff"/>
<ellipse cx="157.1" cy="122.2" rx="7.0" ry="4.9" fill="#fff" stroke="#1c1c1c" stroke-width="2.3"/>
<path d="M153.3,122.8 Q154.1,120.2 156.3,120.3 M157.9,120.3 Q160.1,120.2 160.9,122.8 M151.6,124.3 L152.3,125.0" fill="none" stroke="#1c1c1c" stroke-width="1.0"/>
<rect x="199.2" y="106.5" width="7.6" height="22.2" rx="2.2" fill="#1c1c1c"/>
<rect x="201.1" y="111.30" width="3.8" height="1.15" fill="#fff"/>
<rect x="201.1" y="113.85" width="3.8" height="1.15" fill="#fff"/>
<rect x="201.1" y="116.40" width="3.8" height="1.15" fill="#fff"/>
<rect x="201.1" y="118.95" width="3.8" height="1.15" fill="#fff"/>
<rect x="201.1" y="121.50" width="3.8" height="1.15" fill="#fff"/>
<rect x="201.1" y="124.05" width="3.8" height="1.15" fill="#fff"/>
<ellipse cx="203.0" cy="104.9" rx="6.7" ry="4.7" fill="#fff" stroke="#1c1c1c" stroke-width="2.3"/>
<path d="M199.2,105.5 Q200.0,102.9 202.2,103.0 M203.8,103.0 Q206.0,102.9 206.8,105.5 M197.5,107.0 L198.2,107.7" fill="none" stroke="#1c1c1c" stroke-width="1.0"/>
<rect x="388.3" y="182.9" width="7.4" height="22.0" rx="2.2" fill="#1c1c1c"/>
<rect x="390.1" y="187.70" width="3.8" height="1.15" fill="#fff"/>
<rect x="390.1" y="190.25" width="3.8" height="1.15" fill="#fff"/>
<rect x="390.1" y="192.80" width="3.8" height="1.15" fill="#fff"/>
<rect x="390.1" y="195.35" width="3.8" height="1.15" fill="#fff"/>
<rect x="390.1" y="197.90" width="3.8" height="1.15" fill="#fff"/>
<rect x="390.1" y="200.45" width="3.8" height="1.15" fill="#fff"/>
<ellipse cx="392.0" cy="181.3" rx="6.8" ry="4.7" fill="#fff" stroke="#1c1c1c" stroke-width="2.3"/>
<path d="M388.2,181.9 Q389.0,179.3 391.2,179.4 M392.8,179.4 Q395.0,179.3 395.8,181.9 M386.5,183.4 L387.2,184.1" fill="none" stroke="#1c1c1c" stroke-width="1.0"/>
<rect x="434.6" y="166.0" width="7.5" height="22.3" rx="2.2" fill="#1c1c1c"/>
<rect x="436.5" y="170.60" width="3.8" height="1.15" fill="#fff"/>
<rect x="436.5" y="173.15" width="3.8" height="1.15" fill="#fff"/>
<rect x="436.5" y="175.70" width="3.8" height="1.15" fill="#fff"/>
<rect x="436.5" y="178.25" width="3.8" height="1.15" fill="#fff"/>
<rect x="436.5" y="180.80" width="3.8" height="1.15" fill="#fff"/>
<rect x="436.5" y="183.35" width="3.8" height="1.15" fill="#fff"/>
<rect x="436.5" y="185.90" width="3.8" height="1.15" fill="#fff"/>
<ellipse cx="438.4" cy="164.4" rx="6.8" ry="4.5" fill="#fff" stroke="#1c1c1c" stroke-width="2.3"/>
<path d="M434.6,165.0 Q435.4,162.4 437.6,162.5 M439.2,162.5 Q441.4,162.4 442.2,165.0 M432.9,166.5 L433.6,167.2" fill="none" stroke="#1c1c1c" stroke-width="1.0"/>
<line x1="156.8" y1="152.0" x2="156.8" y2="196.0" stroke="#8a8a8a" stroke-width="1.0"/>
<line x1="203.3" y1="135.0" x2="203.3" y2="178.7" stroke="#8a8a8a" stroke-width="1.0"/>
<line x1="156.8" y1="206.9" x2="156.8" y2="219.0" stroke="#8a8a8a" stroke-width="1.0"/>
<line x1="203.3" y1="190.0" x2="203.3" y2="203.0" stroke="#8a8a8a" stroke-width="1.0"/>
<line x1="392.1" y1="211.0" x2="392.1" y2="219.7" stroke="#8a8a8a" stroke-width="1.0"/>
<line x1="438.5" y1="194.0" x2="438.5" y2="202.6" stroke="#8a8a8a" stroke-width="1.0"/>
<line x1="392.1" y1="246.0" x2="392.1" y2="290.0" stroke="#fff" stroke-width="4"/>
<line x1="392.1" y1="246.0" x2="392.1" y2="290.0" stroke="#8a8a8a" stroke-width="1.0"/>
<line x1="438.5" y1="272.0" x2="438.5" y2="316.0" stroke="#fff" stroke-width="4"/>
<line x1="438.5" y1="272.0" x2="438.5" y2="316.0" stroke="#8a8a8a" stroke-width="1.0"/>
<line x1="392.1" y1="232.6" x2="392.1" y2="296.0" stroke="#8a8a8a" stroke-width="1.0"/>
<line x1="438.5" y1="248.0" x2="438.5" y2="312.0" stroke="#8a8a8a" stroke-width="1.0"/>
<line x1="392.1" y1="296" x2="392.1" y2="350" stroke="#8a8a8a" stroke-width="1" stroke-dasharray="9,2.5,1.5,2.5"/>
<line x1="438.5" y1="312" x2="438.5" y2="334" stroke="#8a8a8a" stroke-width="1" stroke-dasharray="6,2.5,1.5,2.5"/>
<line x1="156.8" y1="304.0" x2="156.8" y2="353.3" stroke="#8a8a8a" stroke-width="1.0"/>
<line x1="392.1" y1="380.6" x2="392.1" y2="389.6" stroke="#8a8a8a" stroke-width="1.0"/>
<line x1="438.5" y1="364.5" x2="438.5" y2="373.5" stroke="#8a8a8a" stroke-width="1.0"/>
<path d="M112.5,175.8 L114.8,173.2 L118.5,172.8 L122.3,174.3 L123.0,170.5 L159.0,157.0 L166.5,154.8 L175.5,154.8 L181.5,158.5 L183.0,160.8 L201.0,173.5 L205.5,175.8 L207.7,179.5 L206.2,183.3 L202.5,184.7 L197.2,184.0 L162.0,193.9 L161.6,198.0 L159.0,200.5 L153.7,200.5 L151.2,198.8 L128.1,187.3 L126.4,185.8 L120.4,186.4 L115.3,184.2 L112.3,181.3Z" fill="#fff" stroke="#1c1c1c" stroke-width="2.4" stroke-linejoin="round"/>
<path d="M113.5,179.2 L117.9,181.9 L125.6,183.4 L152.5,196.2 L157.5,196.8 L161.2,193.5 L199.5,181.0 L206.0,179.8" fill="none" stroke="#111" stroke-width="1.0" stroke-linejoin="round" stroke-linecap="round" />
<path d="M138.4,177.1 L166.8,167.4 L183.4,175.9 L155.1,185.7Z" fill="none" stroke="#111" stroke-width="2.2" stroke-linejoin="round" stroke-linecap="round" />
<path d="M141.5,177.8 L148.5,180 L154.5,181.8" fill="none" stroke="#111" stroke-width="2.0" stroke-linejoin="round" stroke-linecap="round" />
<path d="M148.8,176.5 L150.3,172.6 L162.3,168.2 L165.4,168.8 L165,173.2 L163.4,176 L155.5,179" fill="none" stroke="#111" stroke-width="2.0" stroke-linejoin="round" stroke-linecap="round" />
<path d="M166.5,169.2 L180.5,176.2" fill="none" stroke="#111" stroke-width="1.0" stroke-linejoin="round" stroke-linecap="round" />
<path d="M151.8,173.5 L151.8,179.5" fill="none" stroke="#111" stroke-width="1.0" stroke-linejoin="round" stroke-linecap="round" />
<path d="M123,170.5 L130.5,173.8 L129.2,176.4 L122.3,174.3" fill="none" stroke="#111" stroke-width="1.6" stroke-linejoin="round" stroke-linecap="round" />
<ellipse cx="168.7" cy="160" rx="2.2" ry="1.3" fill="none" stroke="#1c1c1c" stroke-width="1.1"/>
<line x1="156.7" y1="152.0" x2="156.7" y2="196.0" stroke="#8a8a8a" stroke-width="1.0"/>
<line x1="202.8" y1="135.0" x2="202.8" y2="178.7" stroke="#8a8a8a" stroke-width="1.0"/>
<ellipse cx="156.8" cy="196" rx="2" ry="1.2" fill="none" stroke="#8a8a8a" stroke-width="0.9"/>
<ellipse cx="203" cy="178.7" rx="2" ry="1.2" fill="none" stroke="#8a8a8a" stroke-width="0.9"/>
<path d="M386.3,220.6 L388.9,216.3 L395.7,216.0 L401.7,219.7 L432.6,208.6 L432.6,203.4 L435.1,200.5 L440.3,200.0 L441.1,200.9 L471.1,215.4 L472.9,216.3 L479.7,218.9 L482.3,221.4 L481.4,225.7 L479.7,226.6 L467.7,224.0 L466.0,225.7 L469.4,228.3 L471.1,230.0 L426.6,245.4 L421.4,247.1 L413.7,245.4 L412.9,243.7 L387.1,226.6 L386.3,224.0Z" fill="#fff" stroke="#1c1c1c" stroke-width="2.4" stroke-linejoin="round"/>
<path d="M387.5,222.5 L413.5,240.0 L421.0,242.5 L470.5,227.0" fill="none" stroke="#111" stroke-width="1.0" stroke-linejoin="round" stroke-linecap="round" />
<path d="M428.1,232.4 L411.4,222.6 L440.1,212.3 L456.4,220.9" fill="none" stroke="#111" stroke-width="2.2" stroke-linejoin="round" stroke-linecap="round" />
<path d="M416.1,223.4 L441,217 L445.3,220.4 L446.1,223 L449.6,223.4 L456.4,220.9" fill="none" stroke="#111" stroke-width="2.1" stroke-linejoin="round" stroke-linecap="round" />
<path d="M414.5,221.4 L440.1,213.8 L453.5,221.2" fill="none" stroke="#111" stroke-width="1.0" stroke-linejoin="round" stroke-linecap="round" />
<path d="M430.7,223.5 L430.7,229.5 L428.1,232.4 M430.9,229.3 L435.5,228.3" fill="none" stroke="#111" stroke-width="2.0" stroke-linejoin="round" stroke-linecap="round" />
<ellipse cx="425.7" cy="238.6" rx="2.3" ry="1.3" fill="none" stroke="#1c1c1c" stroke-width="1.1"/>
<line x1="392.1" y1="211.0" x2="392.1" y2="219.7" stroke="#8a8a8a" stroke-width="1.0"/>
<line x1="438.5" y1="194.0" x2="438.5" y2="202.6" stroke="#8a8a8a" stroke-width="1.0"/>
<ellipse cx="392.1" cy="219.5" rx="2" ry="1.2" fill="none" stroke="#8a8a8a" stroke-width="0.9"/>
<ellipse cx="438.5" cy="202.5" rx="2" ry="1.2" fill="none" stroke="#8a8a8a" stroke-width="0.9"/>
<path d="M165.1,217.8 L196.6,205.6 L196.6,222.3 L165.1,237.7 Z" fill="#fff" stroke="none"/>
<path d="M165.1,217.8 L196.6,205.6" fill="none" stroke="#111" stroke-width="2.1" stroke-linejoin="round" stroke-linecap="round" />
<path d="M165.1,237.7 L196.6,222.3" fill="none" stroke="#111" stroke-width="2.1" stroke-linejoin="round" stroke-linecap="round" />
<path d="M165.5,231.5 L196.6,217.5" fill="none" stroke="#111" stroke-width="1.0" stroke-linejoin="round" stroke-linecap="round" />
<path d="M150.3,221.0 L150.3,237.5 A7.4,3.0 0 0 0 165.1,237.5 L165.1,221.0 A7.4,3.0 0 0 0 150.3,221.0 Z" fill="#fff" stroke="none"/>
<path d="M150.3,222.0 L150.3,237.5" stroke="#1c1c1c" stroke-width="1.2"/>
<path d="M150.3,237.5 A7.4,3.0 0 0 0 165.1,237.5 L165.1,219.5" fill="none" stroke="#1c1c1c" stroke-width="2.2"/>
<path d="M150.3,221.0 A7.4,3.0 0 0 0 165.1,221.0" fill="none" stroke="#1c1c1c" stroke-width="1.1"/>
<path d="M155.2,220.5 Q157.7,222.2 160.2,220.5" fill="none" stroke="#8a8a8a" stroke-width="0.9"/>
<path d="M196.6,205.0 L196.6,219.8 A7.4,3.0 0 0 0 211.4,219.8 L211.4,205.0 A7.4,3.0 0 0 0 196.6,205.0 Z" fill="#fff" stroke="none"/>
<path d="M196.6,206.0 L196.6,219.8" stroke="#1c1c1c" stroke-width="1.2"/>
<path d="M196.6,219.8 A7.4,3.0 0 0 0 211.4,219.8 L211.4,203.5" fill="none" stroke="#1c1c1c" stroke-width="2.2"/>
<path d="M196.6,205.0 A7.4,3.0 0 0 0 211.4,205.0" fill="none" stroke="#1c1c1c" stroke-width="1.1"/>
<path d="M201.5,204.5 Q204.0,206.2 206.5,204.5" fill="none" stroke="#8a8a8a" stroke-width="0.9"/>
<path d="M384.6,358.6 L400.2,353.8 L400.2,347 L384.6,347 Z" fill="#fff"/>
<path d="M431,343.2 L447.2,337.6 L447.2,331 L431,331 Z" fill="#fff"/>
<path d="M383.2,356.2 C383.5,352 385,349 389.5,348.3 L395,348.4 Q398,348.8 401,351.8" fill="none" stroke="#111" stroke-width="2.2" stroke-linejoin="round" stroke-linecap="round" />
<path d="M429.6,341.8 C429.8,337 431.5,333 435.5,332.2 L442,332.2 Q445,332.8 448.5,335.6" fill="none" stroke="#111" stroke-width="2.2" stroke-linejoin="round" stroke-linecap="round" />
<ellipse cx="392.1" cy="353" rx="2.3" ry="1.3" fill="none" stroke="#8a8a8a" stroke-width="0.9"/>
<ellipse cx="438.4" cy="336.5" rx="2.3" ry="1.3" fill="none" stroke="#8a8a8a" stroke-width="0.9"/>
<path d="M152.6,359.5 L161.8,359.5 L166.0,362.9 L166.0,367.7 L161.6,371.7 L152.8,371.7 L148.4,367.7 L148.4,362.9Z" fill="#fff" stroke="#1c1c1c" stroke-width="2.1" stroke-linejoin="round"/>
<ellipse cx="157.2" cy="364.8" rx="7.2" ry="2.9" fill="none" stroke="#1c1c1c" stroke-width="1.0"/>
<ellipse cx="157.2" cy="363.8" rx="3.5" ry="1.3" fill="none" stroke="#1c1c1c" stroke-width="1.4"/>
<path d="M152.8,366.2 L152.8,371.7 M161.6,366.2 L161.6,371.7 M152.8,366.8 L161.6,366.8" fill="none" stroke="#1c1c1c" stroke-width="1.0"/>
<path d="M198.6,342.7 L207.8,342.7 L212.0,346.1 L212.0,350.9 L207.6,354.9 L198.8,354.9 L194.4,350.9 L194.4,346.1Z" fill="#fff" stroke="#1c1c1c" stroke-width="2.1" stroke-linejoin="round"/>
<ellipse cx="203.2" cy="348.0" rx="7.2" ry="2.9" fill="none" stroke="#1c1c1c" stroke-width="1.0"/>
<ellipse cx="203.2" cy="347.0" rx="3.5" ry="1.3" fill="none" stroke="#1c1c1c" stroke-width="1.4"/>
<path d="M198.8,349.4 L198.8,354.9 M207.6,349.4 L207.6,354.9 M198.8,350.0 L207.6,350.0" fill="none" stroke="#1c1c1c" stroke-width="1.0"/>
<path d="M387.3,394.1 L396.5,394.1 L400.7,397.5 L400.7,402.3 L396.3,406.3 L387.5,406.3 L383.1,402.3 L383.1,397.5Z" fill="#fff" stroke="#1c1c1c" stroke-width="2.1" stroke-linejoin="round"/>
<ellipse cx="391.9" cy="399.4" rx="7.2" ry="2.9" fill="none" stroke="#1c1c1c" stroke-width="1.0"/>
<ellipse cx="391.9" cy="398.4" rx="3.5" ry="1.3" fill="none" stroke="#1c1c1c" stroke-width="1.4"/>
<path d="M387.5,400.8 L387.5,406.3 M396.3,400.8 L396.3,406.3 M387.5,401.4 L396.3,401.4" fill="none" stroke="#1c1c1c" stroke-width="1.0"/>
<path d="M433.8,376.9 L443.0,376.9 L447.2,380.3 L447.2,385.1 L442.8,389.1 L434.0,389.1 L429.6,385.1 L429.6,380.3Z" fill="#fff" stroke="#1c1c1c" stroke-width="2.1" stroke-linejoin="round"/>
<ellipse cx="438.4" cy="382.2" rx="7.2" ry="2.9" fill="none" stroke="#1c1c1c" stroke-width="1.0"/>
<ellipse cx="438.4" cy="381.2" rx="3.5" ry="1.3" fill="none" stroke="#1c1c1c" stroke-width="1.4"/>
<path d="M434.0,383.6 L434.0,389.1 M442.8,383.6 L442.8,389.1 M434.0,384.2 L442.8,384.2" fill="none" stroke="#1c1c1c" stroke-width="1.0"/>
<ellipse cx="45.4" cy="443.8" rx="5.2" ry="3.4" fill="#fff" stroke="#1c1c1c" stroke-width="1.2"/>
<ellipse cx="44.7" cy="447.8" rx="5.2" ry="3.4" fill="#fff" stroke="#1c1c1c" stroke-width="1.2"/>
<ellipse cx="44.0" cy="451.8" rx="5.2" ry="3.4" fill="#fff" stroke="#1c1c1c" stroke-width="1.2"/>
<ellipse cx="43.4" cy="455.8" rx="5.2" ry="3.4" fill="#fff" stroke="#1c1c1c" stroke-width="1.2"/>
<ellipse cx="42.7" cy="459.7" rx="5.2" ry="3.4" fill="#fff" stroke="#1c1c1c" stroke-width="1.2"/>
<ellipse cx="42.0" cy="463.7" rx="5.2" ry="3.4" fill="#fff" stroke="#1c1c1c" stroke-width="1.2"/>
<ellipse cx="41.3" cy="467.7" rx="5.2" ry="3.4" fill="#fff" stroke="#1c1c1c" stroke-width="1.2"/>
<ellipse cx="40.6" cy="471.7" rx="5.2" ry="3.4" fill="#fff" stroke="#1c1c1c" stroke-width="1.2"/>
<ellipse cx="39.9" cy="475.7" rx="5.2" ry="3.4" fill="#fff" stroke="#1c1c1c" stroke-width="1.2"/>
<ellipse cx="39.2" cy="479.7" rx="5.2" ry="3.4" fill="#fff" stroke="#1c1c1c" stroke-width="1.2"/>
<ellipse cx="38.6" cy="483.6" rx="5.2" ry="3.4" fill="#fff" stroke="#1c1c1c" stroke-width="1.2"/>
<ellipse cx="37.9" cy="487.6" rx="5.2" ry="3.4" fill="#fff" stroke="#1c1c1c" stroke-width="1.2"/>
<ellipse cx="37.2" cy="491.6" rx="5.2" ry="4.4" fill="#fff" stroke="#1c1c1c" stroke-width="1.2"/>
<ellipse cx="582.3" cy="538.2" rx="5.2" ry="3.4" fill="#fff" stroke="#1c1c1c" stroke-width="1.2"/>
<ellipse cx="581.6" cy="542.1" rx="5.2" ry="3.4" fill="#fff" stroke="#1c1c1c" stroke-width="1.2"/>
<ellipse cx="580.9" cy="546.1" rx="5.2" ry="3.4" fill="#fff" stroke="#1c1c1c" stroke-width="1.2"/>
<ellipse cx="580.2" cy="550.0" rx="5.2" ry="3.4" fill="#fff" stroke="#1c1c1c" stroke-width="1.2"/>
<ellipse cx="579.5" cy="554.0" rx="5.2" ry="3.4" fill="#fff" stroke="#1c1c1c" stroke-width="1.2"/>
<ellipse cx="578.8" cy="557.9" rx="5.2" ry="3.4" fill="#fff" stroke="#1c1c1c" stroke-width="1.2"/>
<ellipse cx="578.0" cy="561.9" rx="5.2" ry="3.4" fill="#fff" stroke="#1c1c1c" stroke-width="1.2"/>
<ellipse cx="577.3" cy="565.8" rx="5.2" ry="3.4" fill="#fff" stroke="#1c1c1c" stroke-width="1.2"/>
<ellipse cx="576.6" cy="569.7" rx="5.2" ry="3.4" fill="#fff" stroke="#1c1c1c" stroke-width="1.2"/>
<ellipse cx="575.9" cy="573.7" rx="5.2" ry="3.4" fill="#fff" stroke="#1c1c1c" stroke-width="1.2"/>
<ellipse cx="575.2" cy="577.6" rx="5.2" ry="3.4" fill="#fff" stroke="#1c1c1c" stroke-width="1.2"/>
<ellipse cx="574.5" cy="581.6" rx="5.2" ry="3.4" fill="#fff" stroke="#1c1c1c" stroke-width="1.2"/>
<ellipse cx="573.8" cy="585.5" rx="5.2" ry="4.4" fill="#fff" stroke="#1c1c1c" stroke-width="1.2"/>
<path d="M77.0,450.6 L77.0,467.2 A4.7,2.4 0 0 0 86.4,467.2 L86.4,450.6 A4.7,2.4 0 0 0 77.0,450.6 Z" fill="#fff" stroke="#1c1c1c" stroke-width="1.9"/>
<path d="M77.0,450.6 A4.7,2.4 0 0 0 86.4,450.6" fill="none" stroke="#1c1c1c" stroke-width="1.1"/>
<circle cx="81.5" cy="460.1" r="2.2" fill="none" stroke="#1c1c1c" stroke-width="1.1"/>
<path d="M72.8,475.4 L72.8,492.0 A4.7,2.4 0 0 0 82.2,492.0 L82.2,475.4 A4.7,2.4 0 0 0 72.8,475.4 Z" fill="#fff" stroke="#1c1c1c" stroke-width="1.9"/>
<path d="M72.8,475.4 A4.7,2.4 0 0 0 82.2,475.4" fill="none" stroke="#1c1c1c" stroke-width="1.1"/>
<circle cx="77.2" cy="485.4" r="2.2" fill="none" stroke="#1c1c1c" stroke-width="1.1"/>
<path d="M550.7,539.4 L550.7,555.8 A4.7,2.4 0 0 0 560.1,555.8 L560.1,539.4 A4.7,2.4 0 0 0 550.7,539.4 Z" fill="#fff" stroke="#1c1c1c" stroke-width="1.9"/>
<path d="M550.7,539.4 A4.7,2.4 0 0 0 560.1,539.4" fill="none" stroke="#1c1c1c" stroke-width="1.1"/>
<circle cx="554.8" cy="549.2" r="2.2" fill="none" stroke="#1c1c1c" stroke-width="1.1"/>
<path d="M546.3,564.7 L546.3,581.4 A4.7,2.4 0 0 0 555.7,581.4 L555.7,564.7 A4.7,2.4 0 0 0 546.3,564.7 Z" fill="#fff" stroke="#1c1c1c" stroke-width="1.9"/>
<path d="M546.3,564.7 A4.7,2.4 0 0 0 555.7,564.7" fill="none" stroke="#1c1c1c" stroke-width="1.1"/>
<circle cx="550.6" cy="574.7" r="2.2" fill="none" stroke="#1c1c1c" stroke-width="1.1"/>
<g transform="translate(100.2,573.5) rotate(9.0)"><path d="M-7.5,-20 Q-7.5,-23.5 0,-23.5 Q7.5,-23.5 7.5,-20 L7.5,-3 Q7.5,5 0,5 Q-7.5,5 -7.5,-3 Z" fill="#fff" stroke="#1c1c1c" stroke-width="2.0"/><ellipse cx="0" cy="-0.5" rx="6" ry="4.8" fill="none" stroke="#1c1c1c" stroke-width="1.5"/><path d="M-4.5,1 L4.5,-1.5" stroke="#1c1c1c" stroke-width="1.1"/><path d="M-4.6,-21 L-4.6,-6" stroke="#1c1c1c" stroke-width="0.8"/><path d="M-2.1,-21 L-2.1,-6" stroke="#1c1c1c" stroke-width="0.8"/><path d="M0.4,-21 L0.4,-6" stroke="#1c1c1c" stroke-width="0.8"/><path d="M2.9,-21 L2.9,-6" stroke="#1c1c1c" stroke-width="0.8"/><path d="M5.2,-21 L5.2,-6" stroke="#1c1c1c" stroke-width="0.8"/><path d="M-5.4,-23.5 L-5.4,-30.5 Q-5.4,-32.5 -3.5,-32.5 L3.5,-32.5 Q5.4,-32.5 5.4,-30.5 L5.4,-23.5" fill="#fff" stroke="#1c1c1c" stroke-width="2.0"/><path d="M-3.4,-32.5 L-3.5,-56 Q-3.6,-59.5 0,-59.5 Q3.6,-59.5 3.5,-56 L3.4,-32.5" fill="#1c1c1c" stroke="#1c1c1c" stroke-width="1.3"/><rect x="-2.3" y="-43" width="4.6" height="10" fill="#fff"/><rect x="-1.8" y="-56.5" width="3.6" height="1.2" fill="#fff"/><rect x="-1.8" y="-53.8" width="3.6" height="1.2" fill="#fff"/><rect x="-1.8" y="-51.1" width="3.6" height="1.2" fill="#fff"/><rect x="-1.8" y="-48.4" width="3.6" height="1.2" fill="#fff"/><rect x="-1.8" y="-45.7" width="3.6" height="1.2" fill="#fff"/></g>
<g transform="translate(527.2,453.0) rotate(8.0)"><path d="M-3.6,30 L-3.6,61.5 Q-3.6,65 0,65 Q3.6,65 3.6,61.5 L3.6,30 Z" fill="#1c1c1c" stroke="#1c1c1c" stroke-width="1.2"/><ellipse cx="0" cy="41.5" rx="1.9" ry="1.3" fill="#fff"/><ellipse cx="0" cy="45.0" rx="1.9" ry="1.3" fill="#fff"/><ellipse cx="0" cy="48.5" rx="1.9" ry="1.3" fill="#fff"/><ellipse cx="0" cy="52.0" rx="1.9" ry="1.3" fill="#fff"/><ellipse cx="0" cy="55.5" rx="1.9" ry="1.3" fill="#fff"/><ellipse cx="0" cy="59.0" rx="1.9" ry="1.3" fill="#fff"/><path d="M-3.4,31 L-3.4,38 L3.4,38 L3.4,31 Z" fill="#fff" stroke="none"/><path d="M-3.6,38.5 L-3.6,31 Q-3.6,28.5 0,28.5 Q3.6,28.5 3.6,31 L3.6,38.5" fill="#fff" stroke="#1c1c1c" stroke-width="1.6"/><path d="M-7.5,4.5 Q-7.5,-0.5 0,-0.5 Q7.5,-0.5 7.5,4.5 L7.5,18 Q7.5,24 6,26 L5.5,32 Q5,34 3.6,34 L-3.6,34 Q-5,34 -5.5,32 L-6,26 Q-7.5,24 -7.5,18 Z" fill="#fff" stroke="#1c1c1c" stroke-width="2.0"/><path d="M-5.5,25 Q-5.5,18.5 0,18.5 Q5.5,18.5 5.5,25" fill="none" stroke="#1c1c1c" stroke-width="1.4"/><path d="M-4.4,2.5 L-4.2,16" stroke="#1c1c1c" stroke-width="0.85"/><path d="M-2.0,2.5 L-1.9,16" stroke="#1c1c1c" stroke-width="0.85"/><path d="M0.4,2.5 L0.4,16" stroke="#1c1c1c" stroke-width="0.85"/><path d="M2.8,2.5 L2.7,16" stroke="#1c1c1c" stroke-width="0.85"/><path d="M5.0,2.5 L4.8,16" stroke="#1c1c1c" stroke-width="0.85"/><path d="M-3.6,34 L-3.6,41 M3.6,34 L3.6,41" stroke="#1c1c1c" stroke-width="1.5"/></g>
<path d="M700.0,107.6 L659.0,83.4 L553.7,122.5 L553.7,138.2 L699.0,223.0" fill="none" stroke="#111" stroke-width="2.3" stroke-linejoin="round" stroke-linecap="round" />
<path d="M554.6,123.4 L699.0,208.4" fill="none" stroke="#111" stroke-width="1.0" stroke-linejoin="round" stroke-linecap="round" />
<path d="M699.0,208.4 L699.0,223.0" fill="none" stroke="#111" stroke-width="1.0" stroke-linejoin="round" stroke-linecap="round" />
<path d="M700,259.2 L660,238.6 Q657.5,237.6 655,239 Q608,264 565,295 L673,372 C680,378 688,387 700,392.5" fill="none" stroke="#111" stroke-width="2.2" stroke-linejoin="round" stroke-linecap="round" />
<path d="M658.8,327.5 Q670,298 690,277.5" fill="none" stroke="#111" stroke-width="1.0" stroke-linejoin="round" stroke-linecap="round" />
<path d="M667.5,342.5 Q672,310 688.8,290" fill="none" stroke="#111" stroke-width="1.0" stroke-linejoin="round" stroke-linecap="round" />
<path d="M700,481 Q686,472 670,472.5 Q652,473.5 640,484 Q630,493 624,505 Q617,520 619.6,531.8 Q622,542 632,548 Q650,557 700,576.4" fill="none" stroke="#111" stroke-width="2.2" stroke-linejoin="round" stroke-linecap="round" />
<path d="M630,496.5 L635.5,499.5" fill="none" stroke="#111" stroke-width="3.0" stroke-linejoin="round" stroke-linecap="round" />
<path d="M687.5,566.6 L688.5,567.2" fill="none" stroke="#111" stroke-width="2.4" stroke-linejoin="round" stroke-linecap="round" />
<path d="M639,501 L660,509.5" fill="none" stroke="#111" stroke-width="1.0" stroke-linejoin="round" stroke-linecap="round" />
<path d="M682.5,480.0 L750.5,513.6 M677.0,487.4 L745.0,521.0 M671.4,494.8 L739.4,528.4 M665.9,502.2 L733.9,535.8 M660.3,509.6 L728.3,543.2 M654.8,517.0 L722.8,550.6 M649.2,524.4 L717.2,558.0 M643.6,531.8 L711.6,565.4 M638.1,539.2 L706.1,572.8 M682.5,480.0 L638.1,539.2 M691.0,484.2 L646.6,543.4 M699.5,488.4 L655.1,547.6 M708.0,492.6 L663.6,551.8 M716.5,496.8 L672.1,556.0 M725.0,501.0 L680.6,560.2 M733.5,505.2 L689.1,564.4 M742.0,509.4 L697.6,568.6 M750.5,513.6 L706.1,572.8" fill="none" stroke="#111" stroke-width="1.1" stroke-linejoin="round" stroke-linecap="round" />
<circle cx="62.8" cy="182.6" r="19.5" fill="none" stroke="#fe0000" stroke-width="2.9"/>
<circle cx="519.1" cy="277.15" r="18.05" fill="none" stroke="#fe0000" stroke-width="2.9"/>
<path d="M114,112.4 L148.9,123.2 M114,112.4 L195,104.1" fill="none" stroke="#222" stroke-width="1.0" stroke-linejoin="round" stroke-linecap="round" />
<path d="M365,155.7 L386.4,176.3 M365,155.7 L430.4,163.1" fill="none" stroke="#222" stroke-width="1.0" stroke-linejoin="round" stroke-linecap="round" />
<path d="M76.4,176.9 L112,179.3" fill="none" stroke="#222" stroke-width="1.0" stroke-linejoin="round" stroke-linecap="round" />
<path d="M465.7,235 L505,262.1" fill="none" stroke="#222" stroke-width="1.0" stroke-linejoin="round" stroke-linecap="round" />
<path d="M167,369 L182.6,381.2 L202.3,356.6" fill="none" stroke="#222" stroke-width="1.0" stroke-linejoin="round" stroke-linecap="round" />
<path d="M401.5,403 L417.6,415.3 L436.9,390.9" fill="none" stroke="#222" stroke-width="1.0" stroke-linejoin="round" stroke-linecap="round" />
<path d="M37.7,423.3 L43.6,441" fill="none" stroke="#222" stroke-width="1.0" stroke-linejoin="round" stroke-linecap="round" />
<path d="M88.4,423.3 L82.5,448" fill="none" stroke="#222" stroke-width="1.0" stroke-linejoin="round" stroke-linecap="round" />
<path d="M74.2,496.4 L62.4,522.3" fill="none" stroke="#222" stroke-width="1.0" stroke-linejoin="round" stroke-linecap="round" />
<path d="M110.7,567 L137.9,582" fill="none" stroke="#222" stroke-width="1.0" stroke-linejoin="round" stroke-linecap="round" />
<path d="M527.5,423.4 L527.5,453" fill="none" stroke="#222" stroke-width="1.0" stroke-linejoin="round" stroke-linecap="round" />
<path d="M566.4,515 L559.8,538" fill="none" stroke="#222" stroke-width="1.0" stroke-linejoin="round" stroke-linecap="round" />
<path d="M546.5,582.4 L516.6,606.3" fill="none" stroke="#222" stroke-width="1.0" stroke-linejoin="round" stroke-linecap="round" />
<path d="M572,591.3 L569.3,605.7" fill="none" stroke="#222" stroke-width="1.0" stroke-linejoin="round" stroke-linecap="round" />
<text x="102.0" y="124" font-size="22" fill="#222" text-anchor="middle">6</text>
<text x="353.45" y="157.4" font-size="22" fill="#222" text-anchor="middle">6</text>
<text x="62.150000000000006" y="189.3" font-size="22" fill="#222" text-anchor="middle">5</text>
<text x="517.45" y="284.3" font-size="22" fill="#222" text-anchor="middle">5</text>
<text x="181.8" y="402.6" font-size="22" fill="#222" text-anchor="middle">7</text>
<text x="416.5" y="437.8" font-size="22" fill="#222" text-anchor="middle">7</text>
<text x="36.5" y="418.6" font-size="22" fill="#222" text-anchor="middle">4</text>
<text x="89.5" y="418.6" font-size="22" fill="#222" text-anchor="middle">2</text>
<text x="57.7" y="550.6" font-size="22" fill="#222" text-anchor="middle">1</text>
<text x="150.35" y="595.7" font-size="22" fill="#222" text-anchor="middle">3</text>
<text x="527.5" y="416" font-size="22" fill="#222" text-anchor="middle">3</text>
<text x="568.0" y="508" font-size="22" fill="#222" text-anchor="middle">1</text>
<text x="506.0" y="626.7" font-size="22" fill="#222" text-anchor="middle">2</text>
<text x="566.45" y="626.7" font-size="22" fill="#222" text-anchor="middle">4</text>
<line x1="-3.8" y1="0.6" x2="296.3" y2="0.6" stroke="#d2d2d2" stroke-width="1.5" stroke-dasharray="11.3,5"/>
<line x1="532.9" y1="0.6" x2="700" y2="0.6" stroke="#d2d2d2" stroke-width="1.5" stroke-dasharray="11.3,5"/>
</svg></body></html>
